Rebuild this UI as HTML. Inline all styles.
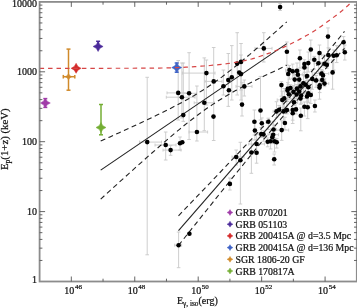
<!DOCTYPE html>
<html><head><meta charset="utf-8"><style>
html,body{margin:0;padding:0;background:#fff;}
svg{display:block;will-change:transform;}
</style></head><body>
<svg width="357" height="308" viewBox="0 0 357 308">
<rect width="357" height="308" fill="#fff"/>
<line x1="139.5" y1="142.1" x2="161.5" y2="142.1" stroke="#c8c8c8" stroke-width="0.9"/>
<line x1="139.5" y1="140.6" x2="139.5" y2="143.6" stroke="#c8c8c8" stroke-width="0.9"/>
<line x1="161.5" y1="140.6" x2="161.5" y2="143.6" stroke="#c8c8c8" stroke-width="0.9"/>
<line x1="147.2" y1="77.3" x2="147.2" y2="254.8" stroke="#c8c8c8" stroke-width="0.9"/>
<line x1="145.39999999999998" y1="77.3" x2="149.0" y2="77.3" stroke="#c8c8c8" stroke-width="0.9"/>
<line x1="145.39999999999998" y1="254.8" x2="149.0" y2="254.8" stroke="#c8c8c8" stroke-width="0.9"/>
<line x1="155" y1="145" x2="176" y2="145" stroke="#c8c8c8" stroke-width="0.9"/>
<line x1="155" y1="143.5" x2="155" y2="146.5" stroke="#c8c8c8" stroke-width="0.9"/>
<line x1="176" y1="143.5" x2="176" y2="146.5" stroke="#c8c8c8" stroke-width="0.9"/>
<line x1="165.7" y1="132" x2="165.7" y2="160" stroke="#c8c8c8" stroke-width="0.9"/>
<line x1="163.89999999999998" y1="132" x2="167.5" y2="132" stroke="#c8c8c8" stroke-width="0.9"/>
<line x1="163.89999999999998" y1="160" x2="167.5" y2="160" stroke="#c8c8c8" stroke-width="0.9"/>
<line x1="163" y1="150.1" x2="181" y2="150.1" stroke="#c8c8c8" stroke-width="0.9"/>
<line x1="163" y1="148.6" x2="163" y2="151.6" stroke="#c8c8c8" stroke-width="0.9"/>
<line x1="181" y1="148.6" x2="181" y2="151.6" stroke="#c8c8c8" stroke-width="0.9"/>
<line x1="170.6" y1="145.6" x2="170.6" y2="155.3" stroke="#c8c8c8" stroke-width="0.9"/>
<line x1="168.79999999999998" y1="145.6" x2="172.4" y2="145.6" stroke="#c8c8c8" stroke-width="0.9"/>
<line x1="168.79999999999998" y1="155.3" x2="172.4" y2="155.3" stroke="#c8c8c8" stroke-width="0.9"/>
<line x1="180" y1="137" x2="180" y2="150" stroke="#c8c8c8" stroke-width="0.9"/>
<line x1="178.2" y1="137" x2="181.8" y2="137" stroke="#c8c8c8" stroke-width="0.9"/>
<line x1="178.2" y1="150" x2="181.8" y2="150" stroke="#c8c8c8" stroke-width="0.9"/>
<line x1="189" y1="132" x2="207.6" y2="132" stroke="#c8c8c8" stroke-width="0.9"/>
<line x1="189" y1="130.5" x2="189" y2="133.5" stroke="#c8c8c8" stroke-width="0.9"/>
<line x1="207.6" y1="130.5" x2="207.6" y2="133.5" stroke="#c8c8c8" stroke-width="0.9"/>
<line x1="196.9" y1="86" x2="196.9" y2="141" stroke="#c8c8c8" stroke-width="0.9"/>
<line x1="195.1" y1="86" x2="198.70000000000002" y2="86" stroke="#c8c8c8" stroke-width="0.9"/>
<line x1="195.1" y1="141" x2="198.70000000000002" y2="141" stroke="#c8c8c8" stroke-width="0.9"/>
<line x1="183.3" y1="63" x2="183.3" y2="121.4" stroke="#c8c8c8" stroke-width="0.9"/>
<line x1="181.5" y1="63" x2="185.10000000000002" y2="63" stroke="#c8c8c8" stroke-width="0.9"/>
<line x1="181.5" y1="121.4" x2="185.10000000000002" y2="121.4" stroke="#c8c8c8" stroke-width="0.9"/>
<line x1="167" y1="92.9" x2="189" y2="92.9" stroke="#c8c8c8" stroke-width="0.9"/>
<line x1="167" y1="91.4" x2="167" y2="94.4" stroke="#c8c8c8" stroke-width="0.9"/>
<line x1="189" y1="91.4" x2="189" y2="94.4" stroke="#c8c8c8" stroke-width="0.9"/>
<line x1="178.2" y1="60.5" x2="178.2" y2="120" stroke="#c8c8c8" stroke-width="0.9"/>
<line x1="176.39999999999998" y1="60.5" x2="180.0" y2="60.5" stroke="#c8c8c8" stroke-width="0.9"/>
<line x1="176.39999999999998" y1="120" x2="180.0" y2="120" stroke="#c8c8c8" stroke-width="0.9"/>
<line x1="166.3" y1="97.2" x2="195" y2="97.2" stroke="#c8c8c8" stroke-width="0.9"/>
<line x1="166.3" y1="95.7" x2="166.3" y2="98.7" stroke="#c8c8c8" stroke-width="0.9"/>
<line x1="195" y1="95.7" x2="195" y2="98.7" stroke="#c8c8c8" stroke-width="0.9"/>
<line x1="181.9" y1="63" x2="181.9" y2="118" stroke="#c8c8c8" stroke-width="0.9"/>
<line x1="180.1" y1="63" x2="183.70000000000002" y2="63" stroke="#c8c8c8" stroke-width="0.9"/>
<line x1="180.1" y1="118" x2="183.70000000000002" y2="118" stroke="#c8c8c8" stroke-width="0.9"/>
<line x1="183" y1="93.3" x2="196.5" y2="93.3" stroke="#c8c8c8" stroke-width="0.9"/>
<line x1="183" y1="91.8" x2="183" y2="94.8" stroke="#c8c8c8" stroke-width="0.9"/>
<line x1="196.5" y1="91.8" x2="196.5" y2="94.8" stroke="#c8c8c8" stroke-width="0.9"/>
<line x1="189.1" y1="52.7" x2="189.1" y2="139.5" stroke="#c8c8c8" stroke-width="0.9"/>
<line x1="187.29999999999998" y1="52.7" x2="190.9" y2="52.7" stroke="#c8c8c8" stroke-width="0.9"/>
<line x1="187.29999999999998" y1="139.5" x2="190.9" y2="139.5" stroke="#c8c8c8" stroke-width="0.9"/>
<line x1="182.4" y1="73.1" x2="215" y2="73.1" stroke="#c8c8c8" stroke-width="0.9"/>
<line x1="182.4" y1="71.6" x2="182.4" y2="74.6" stroke="#c8c8c8" stroke-width="0.9"/>
<line x1="215" y1="71.6" x2="215" y2="74.6" stroke="#c8c8c8" stroke-width="0.9"/>
<line x1="206.4" y1="60" x2="206.4" y2="105" stroke="#c8c8c8" stroke-width="0.9"/>
<line x1="204.6" y1="60" x2="208.20000000000002" y2="60" stroke="#c8c8c8" stroke-width="0.9"/>
<line x1="204.6" y1="105" x2="208.20000000000002" y2="105" stroke="#c8c8c8" stroke-width="0.9"/>
<line x1="205" y1="81.4" x2="222" y2="81.4" stroke="#c8c8c8" stroke-width="0.9"/>
<line x1="205" y1="79.9" x2="205" y2="82.9" stroke="#c8c8c8" stroke-width="0.9"/>
<line x1="222" y1="79.9" x2="222" y2="82.9" stroke="#c8c8c8" stroke-width="0.9"/>
<line x1="213.7" y1="47.5" x2="213.7" y2="140.5" stroke="#c8c8c8" stroke-width="0.9"/>
<line x1="211.89999999999998" y1="47.5" x2="215.5" y2="47.5" stroke="#c8c8c8" stroke-width="0.9"/>
<line x1="211.89999999999998" y1="140.5" x2="215.5" y2="140.5" stroke="#c8c8c8" stroke-width="0.9"/>
<line x1="194.2" y1="102.8" x2="214" y2="102.8" stroke="#c8c8c8" stroke-width="0.9"/>
<line x1="194.2" y1="101.3" x2="194.2" y2="104.3" stroke="#c8c8c8" stroke-width="0.9"/>
<line x1="214" y1="101.3" x2="214" y2="104.3" stroke="#c8c8c8" stroke-width="0.9"/>
<line x1="204.3" y1="57.9" x2="204.3" y2="130.7" stroke="#c8c8c8" stroke-width="0.9"/>
<line x1="202.5" y1="57.9" x2="206.10000000000002" y2="57.9" stroke="#c8c8c8" stroke-width="0.9"/>
<line x1="202.5" y1="130.7" x2="206.10000000000002" y2="130.7" stroke="#c8c8c8" stroke-width="0.9"/>
<line x1="223.4" y1="70" x2="223.4" y2="95" stroke="#c8c8c8" stroke-width="0.9"/>
<line x1="221.6" y1="70" x2="225.20000000000002" y2="70" stroke="#c8c8c8" stroke-width="0.9"/>
<line x1="221.6" y1="95" x2="225.20000000000002" y2="95" stroke="#c8c8c8" stroke-width="0.9"/>
<line x1="228.3" y1="53.5" x2="228.3" y2="106.4" stroke="#c8c8c8" stroke-width="0.9"/>
<line x1="226.5" y1="53.5" x2="230.10000000000002" y2="53.5" stroke="#c8c8c8" stroke-width="0.9"/>
<line x1="226.5" y1="106.4" x2="230.10000000000002" y2="106.4" stroke="#c8c8c8" stroke-width="0.9"/>
<line x1="231.8" y1="45.6" x2="231.8" y2="100" stroke="#c8c8c8" stroke-width="0.9"/>
<line x1="230.0" y1="45.6" x2="233.60000000000002" y2="45.6" stroke="#c8c8c8" stroke-width="0.9"/>
<line x1="230.0" y1="100" x2="233.60000000000002" y2="100" stroke="#c8c8c8" stroke-width="0.9"/>
<line x1="237.2" y1="32.7" x2="237.2" y2="95" stroke="#c8c8c8" stroke-width="0.9"/>
<line x1="235.39999999999998" y1="32.7" x2="239.0" y2="32.7" stroke="#c8c8c8" stroke-width="0.9"/>
<line x1="235.39999999999998" y1="95" x2="239.0" y2="95" stroke="#c8c8c8" stroke-width="0.9"/>
<line x1="241" y1="43.5" x2="241" y2="90" stroke="#c8c8c8" stroke-width="0.9"/>
<line x1="239.2" y1="43.5" x2="242.8" y2="43.5" stroke="#c8c8c8" stroke-width="0.9"/>
<line x1="239.2" y1="90" x2="242.8" y2="90" stroke="#c8c8c8" stroke-width="0.9"/>
<line x1="241" y1="55" x2="241" y2="100" stroke="#c8c8c8" stroke-width="0.9"/>
<line x1="239.2" y1="55" x2="242.8" y2="55" stroke="#c8c8c8" stroke-width="0.9"/>
<line x1="239.2" y1="100" x2="242.8" y2="100" stroke="#c8c8c8" stroke-width="0.9"/>
<line x1="236" y1="86.4" x2="252" y2="86.4" stroke="#c8c8c8" stroke-width="0.9"/>
<line x1="236" y1="84.9" x2="236" y2="87.9" stroke="#c8c8c8" stroke-width="0.9"/>
<line x1="252" y1="84.9" x2="252" y2="87.9" stroke="#c8c8c8" stroke-width="0.9"/>
<line x1="244.3" y1="80" x2="244.3" y2="96" stroke="#c8c8c8" stroke-width="0.9"/>
<line x1="242.5" y1="80" x2="246.10000000000002" y2="80" stroke="#c8c8c8" stroke-width="0.9"/>
<line x1="242.5" y1="96" x2="246.10000000000002" y2="96" stroke="#c8c8c8" stroke-width="0.9"/>
<line x1="242" y1="82.3" x2="242" y2="116" stroke="#c8c8c8" stroke-width="0.9"/>
<line x1="240.2" y1="82.3" x2="243.8" y2="82.3" stroke="#c8c8c8" stroke-width="0.9"/>
<line x1="240.2" y1="116" x2="243.8" y2="116" stroke="#c8c8c8" stroke-width="0.9"/>
<line x1="255" y1="48.4" x2="272" y2="48.4" stroke="#c8c8c8" stroke-width="0.9"/>
<line x1="255" y1="46.9" x2="255" y2="49.9" stroke="#c8c8c8" stroke-width="0.9"/>
<line x1="272" y1="46.9" x2="272" y2="49.9" stroke="#c8c8c8" stroke-width="0.9"/>
<line x1="263.8" y1="32.7" x2="263.8" y2="62" stroke="#c8c8c8" stroke-width="0.9"/>
<line x1="262.0" y1="32.7" x2="265.6" y2="32.7" stroke="#c8c8c8" stroke-width="0.9"/>
<line x1="262.0" y1="62" x2="265.6" y2="62" stroke="#c8c8c8" stroke-width="0.9"/>
<line x1="280.1" y1="3.5" x2="280.1" y2="10.5" stroke="#c8c8c8" stroke-width="0.9"/>
<line x1="278.3" y1="3.5" x2="281.90000000000003" y2="3.5" stroke="#c8c8c8" stroke-width="0.9"/>
<line x1="278.3" y1="10.5" x2="281.90000000000003" y2="10.5" stroke="#c8c8c8" stroke-width="0.9"/>
<line x1="260.5" y1="76.4" x2="260.5" y2="120" stroke="#c8c8c8" stroke-width="0.9"/>
<line x1="258.7" y1="76.4" x2="262.3" y2="76.4" stroke="#c8c8c8" stroke-width="0.9"/>
<line x1="258.7" y1="120" x2="262.3" y2="120" stroke="#c8c8c8" stroke-width="0.9"/>
<line x1="174.7" y1="245.2" x2="181.6" y2="245.2" stroke="#c8c8c8" stroke-width="0.9"/>
<line x1="174.7" y1="243.7" x2="174.7" y2="246.7" stroke="#c8c8c8" stroke-width="0.9"/>
<line x1="181.6" y1="243.7" x2="181.6" y2="246.7" stroke="#c8c8c8" stroke-width="0.9"/>
<line x1="178.6" y1="232" x2="178.6" y2="267.7" stroke="#c8c8c8" stroke-width="0.9"/>
<line x1="176.79999999999998" y1="232" x2="180.4" y2="232" stroke="#c8c8c8" stroke-width="0.9"/>
<line x1="176.79999999999998" y1="267.7" x2="180.4" y2="267.7" stroke="#c8c8c8" stroke-width="0.9"/>
<line x1="229.9" y1="178" x2="229.9" y2="190" stroke="#c8c8c8" stroke-width="0.9"/>
<line x1="228.1" y1="178" x2="231.70000000000002" y2="178" stroke="#c8c8c8" stroke-width="0.9"/>
<line x1="228.1" y1="190" x2="231.70000000000002" y2="190" stroke="#c8c8c8" stroke-width="0.9"/>
<line x1="254.4" y1="110" x2="254.4" y2="135" stroke="#c8c8c8" stroke-width="0.9"/>
<line x1="252.6" y1="110" x2="256.2" y2="110" stroke="#c8c8c8" stroke-width="0.9"/>
<line x1="252.6" y1="135" x2="256.2" y2="135" stroke="#c8c8c8" stroke-width="0.9"/>
<line x1="261.8" y1="117.93317064616787" x2="261.8" y2="127.55764256532052" stroke="#c8c8c8" stroke-width="0.9"/>
<line x1="260.0" y1="117.93317064616787" x2="263.6" y2="117.93317064616787" stroke="#c8c8c8" stroke-width="0.9"/>
<line x1="260.0" y1="127.55764256532052" x2="263.6" y2="127.55764256532052" stroke="#c8c8c8" stroke-width="0.9"/>
<line x1="265.9520064513518" y1="121.7" x2="270.64799354864823" y2="121.7" stroke="#c8c8c8" stroke-width="0.9"/>
<line x1="265.9520064513518" y1="120.2" x2="265.9520064513518" y2="123.2" stroke="#c8c8c8" stroke-width="0.9"/>
<line x1="270.64799354864823" y1="120.2" x2="270.64799354864823" y2="123.2" stroke="#c8c8c8" stroke-width="0.9"/>
<line x1="268.3" y1="118.1929459933272" x2="268.3" y2="129.5229380387602" stroke="#c8c8c8" stroke-width="0.9"/>
<line x1="266.5" y1="118.1929459933272" x2="270.1" y2="118.1929459933272" stroke="#c8c8c8" stroke-width="0.9"/>
<line x1="266.5" y1="129.5229380387602" x2="270.1" y2="129.5229380387602" stroke="#c8c8c8" stroke-width="0.9"/>
<line x1="254.9" y1="122" x2="254.9" y2="140" stroke="#c8c8c8" stroke-width="0.9"/>
<line x1="253.1" y1="122" x2="256.7" y2="122" stroke="#c8c8c8" stroke-width="0.9"/>
<line x1="253.1" y1="140" x2="256.7" y2="140" stroke="#c8c8c8" stroke-width="0.9"/>
<line x1="258.7808674585523" y1="134" x2="263.6191325414477" y2="134" stroke="#c8c8c8" stroke-width="0.9"/>
<line x1="258.7808674585523" y1="132.5" x2="258.7808674585523" y2="135.5" stroke="#c8c8c8" stroke-width="0.9"/>
<line x1="263.6191325414477" y1="132.5" x2="263.6191325414477" y2="135.5" stroke="#c8c8c8" stroke-width="0.9"/>
<line x1="261.2" y1="127.44794986767405" x2="261.2" y2="137.33746092597787" stroke="#c8c8c8" stroke-width="0.9"/>
<line x1="259.4" y1="127.44794986767405" x2="263.0" y2="127.44794986767405" stroke="#c8c8c8" stroke-width="0.9"/>
<line x1="259.4" y1="137.33746092597787" x2="263.0" y2="137.33746092597787" stroke="#c8c8c8" stroke-width="0.9"/>
<line x1="263.5" y1="130.76500890659295" x2="263.5" y2="141.22067270228263" stroke="#c8c8c8" stroke-width="0.9"/>
<line x1="261.7" y1="130.76500890659295" x2="265.3" y2="130.76500890659295" stroke="#c8c8c8" stroke-width="0.9"/>
<line x1="261.7" y1="141.22067270228263" x2="265.3" y2="141.22067270228263" stroke="#c8c8c8" stroke-width="0.9"/>
<line x1="267.7" y1="137.9333862719525" x2="267.7" y2="146.80915068146314" stroke="#c8c8c8" stroke-width="0.9"/>
<line x1="265.9" y1="137.9333862719525" x2="269.5" y2="137.9333862719525" stroke="#c8c8c8" stroke-width="0.9"/>
<line x1="265.9" y1="146.80915068146314" x2="269.5" y2="146.80915068146314" stroke="#c8c8c8" stroke-width="0.9"/>
<line x1="248.7424693664425" y1="144" x2="264.45753063355755" y2="144" stroke="#c8c8c8" stroke-width="0.9"/>
<line x1="248.7424693664425" y1="142.5" x2="248.7424693664425" y2="145.5" stroke="#c8c8c8" stroke-width="0.9"/>
<line x1="264.45753063355755" y1="142.5" x2="264.45753063355755" y2="145.5" stroke="#c8c8c8" stroke-width="0.9"/>
<line x1="256.6" y1="134.36603740280097" x2="256.6" y2="152.1939265375575" stroke="#c8c8c8" stroke-width="0.9"/>
<line x1="254.8" y1="134.36603740280097" x2="258.40000000000003" y2="134.36603740280097" stroke="#c8c8c8" stroke-width="0.9"/>
<line x1="254.8" y1="152.1939265375575" x2="258.40000000000003" y2="152.1939265375575" stroke="#c8c8c8" stroke-width="0.9"/>
<line x1="251.4" y1="140" x2="251.4" y2="173.3" stroke="#c8c8c8" stroke-width="0.9"/>
<line x1="249.6" y1="140" x2="253.20000000000002" y2="140" stroke="#c8c8c8" stroke-width="0.9"/>
<line x1="249.6" y1="173.3" x2="253.20000000000002" y2="173.3" stroke="#c8c8c8" stroke-width="0.9"/>
<line x1="256.6" y1="140" x2="256.6" y2="163.2" stroke="#c8c8c8" stroke-width="0.9"/>
<line x1="254.8" y1="140" x2="258.40000000000003" y2="140" stroke="#c8c8c8" stroke-width="0.9"/>
<line x1="254.8" y1="163.2" x2="258.40000000000003" y2="163.2" stroke="#c8c8c8" stroke-width="0.9"/>
<line x1="232" y1="157" x2="244" y2="157" stroke="#c8c8c8" stroke-width="0.9"/>
<line x1="232" y1="155.5" x2="232" y2="158.5" stroke="#c8c8c8" stroke-width="0.9"/>
<line x1="244" y1="155.5" x2="244" y2="158.5" stroke="#c8c8c8" stroke-width="0.9"/>
<line x1="236.2" y1="150" x2="236.2" y2="165" stroke="#c8c8c8" stroke-width="0.9"/>
<line x1="234.39999999999998" y1="150" x2="238.0" y2="150" stroke="#c8c8c8" stroke-width="0.9"/>
<line x1="234.39999999999998" y1="165" x2="238.0" y2="165" stroke="#c8c8c8" stroke-width="0.9"/>
<line x1="240.4" y1="142.3" x2="240.4" y2="204" stroke="#c8c8c8" stroke-width="0.9"/>
<line x1="238.6" y1="142.3" x2="242.20000000000002" y2="142.3" stroke="#c8c8c8" stroke-width="0.9"/>
<line x1="238.6" y1="204" x2="242.20000000000002" y2="204" stroke="#c8c8c8" stroke-width="0.9"/>
<line x1="274.2" y1="154" x2="274.2" y2="165" stroke="#c8c8c8" stroke-width="0.9"/>
<line x1="272.4" y1="154" x2="276.0" y2="154" stroke="#c8c8c8" stroke-width="0.9"/>
<line x1="272.4" y1="165" x2="276.0" y2="165" stroke="#c8c8c8" stroke-width="0.9"/>
<line x1="271.63446949985536" y1="141.3" x2="277.36553050014464" y2="141.3" stroke="#c8c8c8" stroke-width="0.9"/>
<line x1="271.63446949985536" y1="139.8" x2="271.63446949985536" y2="142.8" stroke="#c8c8c8" stroke-width="0.9"/>
<line x1="277.36553050014464" y1="139.8" x2="277.36553050014464" y2="142.8" stroke="#c8c8c8" stroke-width="0.9"/>
<line x1="274.5" y1="137.9739212356757" x2="274.5" y2="152.02621613143813" stroke="#c8c8c8" stroke-width="0.9"/>
<line x1="272.7" y1="137.9739212356757" x2="276.3" y2="137.9739212356757" stroke="#c8c8c8" stroke-width="0.9"/>
<line x1="272.7" y1="152.02621613143813" x2="276.3" y2="152.02621613143813" stroke="#c8c8c8" stroke-width="0.9"/>
<line x1="276.7" y1="138.47545433345144" x2="276.7" y2="148.07633641691743" stroke="#c8c8c8" stroke-width="0.9"/>
<line x1="274.9" y1="138.47545433345144" x2="278.5" y2="138.47545433345144" stroke="#c8c8c8" stroke-width="0.9"/>
<line x1="274.9" y1="148.07633641691743" x2="278.5" y2="148.07633641691743" stroke="#c8c8c8" stroke-width="0.9"/>
<line x1="286.9" y1="42" x2="286.9" y2="65" stroke="#c8c8c8" stroke-width="0.9"/>
<line x1="285.09999999999997" y1="42" x2="288.7" y2="42" stroke="#c8c8c8" stroke-width="0.9"/>
<line x1="285.09999999999997" y1="65" x2="288.7" y2="65" stroke="#c8c8c8" stroke-width="0.9"/>
<line x1="299.9" y1="50" x2="299.9" y2="68" stroke="#c8c8c8" stroke-width="0.9"/>
<line x1="298.09999999999997" y1="50" x2="301.7" y2="50" stroke="#c8c8c8" stroke-width="0.9"/>
<line x1="298.09999999999997" y1="68" x2="301.7" y2="68" stroke="#c8c8c8" stroke-width="0.9"/>
<line x1="304.4" y1="59.73491534053244" x2="304.4" y2="72.23440147296219" stroke="#c8c8c8" stroke-width="0.9"/>
<line x1="302.59999999999997" y1="59.73491534053244" x2="306.2" y2="59.73491534053244" stroke="#c8c8c8" stroke-width="0.9"/>
<line x1="302.59999999999997" y1="72.23440147296219" x2="306.2" y2="72.23440147296219" stroke="#c8c8c8" stroke-width="0.9"/>
<line x1="308.3" y1="52" x2="308.3" y2="72" stroke="#c8c8c8" stroke-width="0.9"/>
<line x1="306.5" y1="52" x2="310.1" y2="52" stroke="#c8c8c8" stroke-width="0.9"/>
<line x1="306.5" y1="72" x2="310.1" y2="72" stroke="#c8c8c8" stroke-width="0.9"/>
<line x1="302.0423929802026" y1="67.5" x2="306.7576070197974" y2="67.5" stroke="#c8c8c8" stroke-width="0.9"/>
<line x1="302.0423929802026" y1="66.0" x2="302.0423929802026" y2="69.0" stroke="#c8c8c8" stroke-width="0.9"/>
<line x1="306.7576070197974" y1="66.0" x2="306.7576070197974" y2="69.0" stroke="#c8c8c8" stroke-width="0.9"/>
<line x1="304.4" y1="61.89321720091988" x2="304.4" y2="75.42970019138602" stroke="#c8c8c8" stroke-width="0.9"/>
<line x1="302.59999999999997" y1="61.89321720091988" x2="306.2" y2="61.89321720091988" stroke="#c8c8c8" stroke-width="0.9"/>
<line x1="302.59999999999997" y1="75.42970019138602" x2="306.2" y2="75.42970019138602" stroke="#c8c8c8" stroke-width="0.9"/>
<line x1="285.61511697773926" y1="70.1" x2="293.38488302226074" y2="70.1" stroke="#c8c8c8" stroke-width="0.9"/>
<line x1="285.61511697773926" y1="68.6" x2="285.61511697773926" y2="71.6" stroke="#c8c8c8" stroke-width="0.9"/>
<line x1="293.38488302226074" y1="68.6" x2="293.38488302226074" y2="71.6" stroke="#c8c8c8" stroke-width="0.9"/>
<line x1="289.5" y1="65.65828901026471" x2="289.5" y2="79.22359975863607" stroke="#c8c8c8" stroke-width="0.9"/>
<line x1="287.7" y1="65.65828901026471" x2="291.3" y2="65.65828901026471" stroke="#c8c8c8" stroke-width="0.9"/>
<line x1="287.7" y1="79.22359975863607" x2="291.3" y2="79.22359975863607" stroke="#c8c8c8" stroke-width="0.9"/>
<line x1="285.93372311086506" y1="71.2" x2="299.4662768891349" y2="71.2" stroke="#c8c8c8" stroke-width="0.9"/>
<line x1="285.93372311086506" y1="69.7" x2="285.93372311086506" y2="72.7" stroke="#c8c8c8" stroke-width="0.9"/>
<line x1="299.4662768891349" y1="69.7" x2="299.4662768891349" y2="72.7" stroke="#c8c8c8" stroke-width="0.9"/>
<line x1="292.7" y1="64.10106695544653" x2="292.7" y2="78.27865938733699" stroke="#c8c8c8" stroke-width="0.9"/>
<line x1="290.9" y1="64.10106695544653" x2="294.5" y2="64.10106695544653" stroke="#c8c8c8" stroke-width="0.9"/>
<line x1="290.9" y1="78.27865938733699" x2="294.5" y2="78.27865938733699" stroke="#c8c8c8" stroke-width="0.9"/>
<line x1="297" y1="63.00703896389301" x2="297" y2="76.09686859649938" stroke="#c8c8c8" stroke-width="0.9"/>
<line x1="295.2" y1="63.00703896389301" x2="298.8" y2="63.00703896389301" stroke="#c8c8c8" stroke-width="0.9"/>
<line x1="295.2" y1="76.09686859649938" x2="298.8" y2="76.09686859649938" stroke="#c8c8c8" stroke-width="0.9"/>
<line x1="288.2" y1="67.32362447331984" x2="288.2" y2="84.87623746016087" stroke="#c8c8c8" stroke-width="0.9"/>
<line x1="286.4" y1="67.32362447331984" x2="290.0" y2="67.32362447331984" stroke="#c8c8c8" stroke-width="0.9"/>
<line x1="286.4" y1="84.87623746016087" x2="290.0" y2="84.87623746016087" stroke="#c8c8c8" stroke-width="0.9"/>
<line x1="293.39126306928864" y1="74.8" x2="302.4087369307113" y2="74.8" stroke="#c8c8c8" stroke-width="0.9"/>
<line x1="293.39126306928864" y1="73.3" x2="293.39126306928864" y2="76.3" stroke="#c8c8c8" stroke-width="0.9"/>
<line x1="302.4087369307113" y1="73.3" x2="302.4087369307113" y2="76.3" stroke="#c8c8c8" stroke-width="0.9"/>
<line x1="297.9" y1="69.7844356457687" x2="297.9" y2="86.62157362743324" stroke="#c8c8c8" stroke-width="0.9"/>
<line x1="296.09999999999997" y1="69.7844356457687" x2="299.7" y2="69.7844356457687" stroke="#c8c8c8" stroke-width="0.9"/>
<line x1="296.09999999999997" y1="86.62157362743324" x2="299.7" y2="86.62157362743324" stroke="#c8c8c8" stroke-width="0.9"/>
<line x1="304.76475645771535" y1="76.1" x2="309.23524354228465" y2="76.1" stroke="#c8c8c8" stroke-width="0.9"/>
<line x1="304.76475645771535" y1="74.6" x2="304.76475645771535" y2="77.6" stroke="#c8c8c8" stroke-width="0.9"/>
<line x1="309.23524354228465" y1="74.6" x2="309.23524354228465" y2="77.6" stroke="#c8c8c8" stroke-width="0.9"/>
<line x1="307" y1="67.80001349304325" x2="307" y2="80.46786081194453" stroke="#c8c8c8" stroke-width="0.9"/>
<line x1="305.2" y1="67.80001349304325" x2="308.8" y2="67.80001349304325" stroke="#c8c8c8" stroke-width="0.9"/>
<line x1="305.2" y1="80.46786081194453" x2="308.8" y2="80.46786081194453" stroke="#c8c8c8" stroke-width="0.9"/>
<line x1="294.7" y1="71.92248900425923" x2="294.7" y2="89.48113779591532" stroke="#c8c8c8" stroke-width="0.9"/>
<line x1="292.9" y1="71.92248900425923" x2="296.5" y2="71.92248900425923" stroke="#c8c8c8" stroke-width="0.9"/>
<line x1="292.9" y1="89.48113779591532" x2="296.5" y2="89.48113779591532" stroke="#c8c8c8" stroke-width="0.9"/>
<line x1="299.2" y1="70.47165531718377" x2="299.2" y2="85.42372761563287" stroke="#c8c8c8" stroke-width="0.9"/>
<line x1="297.4" y1="70.47165531718377" x2="301.0" y2="70.47165531718377" stroke="#c8c8c8" stroke-width="0.9"/>
<line x1="297.4" y1="85.42372761563287" x2="301.0" y2="85.42372761563287" stroke="#c8c8c8" stroke-width="0.9"/>
<line x1="310.8" y1="40" x2="310.8" y2="60" stroke="#c8c8c8" stroke-width="0.9"/>
<line x1="309.0" y1="40" x2="312.6" y2="40" stroke="#c8c8c8" stroke-width="0.9"/>
<line x1="309.0" y1="60" x2="312.6" y2="60" stroke="#c8c8c8" stroke-width="0.9"/>
<line x1="328" y1="27.9" x2="328" y2="60" stroke="#c8c8c8" stroke-width="0.9"/>
<line x1="326.2" y1="27.9" x2="329.8" y2="27.9" stroke="#c8c8c8" stroke-width="0.9"/>
<line x1="326.2" y1="60" x2="329.8" y2="60" stroke="#c8c8c8" stroke-width="0.9"/>
<line x1="343.6" y1="36.6" x2="343.6" y2="50" stroke="#c8c8c8" stroke-width="0.9"/>
<line x1="341.8" y1="36.6" x2="345.40000000000003" y2="36.6" stroke="#c8c8c8" stroke-width="0.9"/>
<line x1="341.8" y1="50" x2="345.40000000000003" y2="50" stroke="#c8c8c8" stroke-width="0.9"/>
<line x1="344.8" y1="45" x2="344.8" y2="60" stroke="#c8c8c8" stroke-width="0.9"/>
<line x1="343.0" y1="45" x2="346.6" y2="45" stroke="#c8c8c8" stroke-width="0.9"/>
<line x1="343.0" y1="60" x2="346.6" y2="60" stroke="#c8c8c8" stroke-width="0.9"/>
<line x1="319.5" y1="45" x2="319.5" y2="62" stroke="#c8c8c8" stroke-width="0.9"/>
<line x1="317.7" y1="45" x2="321.3" y2="45" stroke="#c8c8c8" stroke-width="0.9"/>
<line x1="317.7" y1="62" x2="321.3" y2="62" stroke="#c8c8c8" stroke-width="0.9"/>
<line x1="321.26019331692476" y1="55" x2="335.33980668307527" y2="55" stroke="#c8c8c8" stroke-width="0.9"/>
<line x1="321.26019331692476" y1="53.5" x2="321.26019331692476" y2="56.5" stroke="#c8c8c8" stroke-width="0.9"/>
<line x1="335.33980668307527" y1="53.5" x2="335.33980668307527" y2="56.5" stroke="#c8c8c8" stroke-width="0.9"/>
<line x1="328.3" y1="47.83941086026487" x2="328.3" y2="63.21905683854243" stroke="#c8c8c8" stroke-width="0.9"/>
<line x1="326.5" y1="47.83941086026487" x2="330.1" y2="47.83941086026487" stroke="#c8c8c8" stroke-width="0.9"/>
<line x1="326.5" y1="63.21905683854243" x2="330.1" y2="63.21905683854243" stroke="#c8c8c8" stroke-width="0.9"/>
<line x1="333.7" y1="50" x2="333.7" y2="70" stroke="#c8c8c8" stroke-width="0.9"/>
<line x1="331.9" y1="50" x2="335.5" y2="50" stroke="#c8c8c8" stroke-width="0.9"/>
<line x1="331.9" y1="70" x2="335.5" y2="70" stroke="#c8c8c8" stroke-width="0.9"/>
<line x1="336.7" y1="45.687232334244435" x2="336.7" y2="62.566885036776796" stroke="#c8c8c8" stroke-width="0.9"/>
<line x1="334.9" y1="45.687232334244435" x2="338.5" y2="45.687232334244435" stroke="#c8c8c8" stroke-width="0.9"/>
<line x1="334.9" y1="62.566885036776796" x2="338.5" y2="62.566885036776796" stroke="#c8c8c8" stroke-width="0.9"/>
<line x1="314.3" y1="56.37531400681946" x2="314.3" y2="69.11342819173981" stroke="#c8c8c8" stroke-width="0.9"/>
<line x1="312.5" y1="56.37531400681946" x2="316.1" y2="56.37531400681946" stroke="#c8c8c8" stroke-width="0.9"/>
<line x1="312.5" y1="69.11342819173981" x2="316.1" y2="69.11342819173981" stroke="#c8c8c8" stroke-width="0.9"/>
<line x1="314.0852513453197" y1="63.2" x2="322.71474865468025" y2="63.2" stroke="#c8c8c8" stroke-width="0.9"/>
<line x1="314.0852513453197" y1="61.7" x2="314.0852513453197" y2="64.7" stroke="#c8c8c8" stroke-width="0.9"/>
<line x1="322.71474865468025" y1="61.7" x2="322.71474865468025" y2="64.7" stroke="#c8c8c8" stroke-width="0.9"/>
<line x1="318.4" y1="53.24832842373357" x2="318.4" y2="73.59732307948744" stroke="#c8c8c8" stroke-width="0.9"/>
<line x1="316.59999999999997" y1="53.24832842373357" x2="320.2" y2="53.24832842373357" stroke="#c8c8c8" stroke-width="0.9"/>
<line x1="316.59999999999997" y1="73.59732307948744" x2="320.2" y2="73.59732307948744" stroke="#c8c8c8" stroke-width="0.9"/>
<line x1="321.4917097265607" y1="63.7" x2="327.5082902734393" y2="63.7" stroke="#c8c8c8" stroke-width="0.9"/>
<line x1="321.4917097265607" y1="62.2" x2="321.4917097265607" y2="65.2" stroke="#c8c8c8" stroke-width="0.9"/>
<line x1="327.5082902734393" y1="62.2" x2="327.5082902734393" y2="65.2" stroke="#c8c8c8" stroke-width="0.9"/>
<line x1="324.5" y1="56.01943098881068" x2="324.5" y2="66.9030663525003" stroke="#c8c8c8" stroke-width="0.9"/>
<line x1="322.7" y1="56.01943098881068" x2="326.3" y2="56.01943098881068" stroke="#c8c8c8" stroke-width="0.9"/>
<line x1="322.7" y1="66.9030663525003" x2="326.3" y2="66.9030663525003" stroke="#c8c8c8" stroke-width="0.9"/>
<line x1="326.8" y1="60.88032943862788" x2="326.8" y2="68.23058977398179" stroke="#c8c8c8" stroke-width="0.9"/>
<line x1="325.0" y1="60.88032943862788" x2="328.6" y2="60.88032943862788" stroke="#c8c8c8" stroke-width="0.9"/>
<line x1="325.0" y1="68.23058977398179" x2="328.6" y2="68.23058977398179" stroke="#c8c8c8" stroke-width="0.9"/>
<line x1="332.6" y1="60" x2="332.6" y2="89.2" stroke="#c8c8c8" stroke-width="0.9"/>
<line x1="330.8" y1="60" x2="334.40000000000003" y2="60" stroke="#c8c8c8" stroke-width="0.9"/>
<line x1="330.8" y1="89.2" x2="334.40000000000003" y2="89.2" stroke="#c8c8c8" stroke-width="0.9"/>
<line x1="314.2714681552422" y1="73.6" x2="328.7285318447578" y2="73.6" stroke="#c8c8c8" stroke-width="0.9"/>
<line x1="314.2714681552422" y1="72.1" x2="314.2714681552422" y2="75.1" stroke="#c8c8c8" stroke-width="0.9"/>
<line x1="328.7285318447578" y1="72.1" x2="328.7285318447578" y2="75.1" stroke="#c8c8c8" stroke-width="0.9"/>
<line x1="321.5" y1="69.69461844586921" x2="321.5" y2="78.82853350327223" stroke="#c8c8c8" stroke-width="0.9"/>
<line x1="319.7" y1="69.69461844586921" x2="323.3" y2="69.69461844586921" stroke="#c8c8c8" stroke-width="0.9"/>
<line x1="319.7" y1="78.82853350327223" x2="323.3" y2="78.82853350327223" stroke="#c8c8c8" stroke-width="0.9"/>
<line x1="323" y1="71.83593089159903" x2="323" y2="82.44268660854398" stroke="#c8c8c8" stroke-width="0.9"/>
<line x1="321.2" y1="71.83593089159903" x2="324.8" y2="71.83593089159903" stroke="#c8c8c8" stroke-width="0.9"/>
<line x1="321.2" y1="82.44268660854398" x2="324.8" y2="82.44268660854398" stroke="#c8c8c8" stroke-width="0.9"/>
<line x1="312.3" y1="69.71631321490942" x2="312.3" y2="89.27351854052168" stroke="#c8c8c8" stroke-width="0.9"/>
<line x1="310.5" y1="69.71631321490942" x2="314.1" y2="69.71631321490942" stroke="#c8c8c8" stroke-width="0.9"/>
<line x1="310.5" y1="89.27351854052168" x2="314.1" y2="89.27351854052168" stroke="#c8c8c8" stroke-width="0.9"/>
<line x1="308.79484303681073" y1="80.5" x2="323.4051569631893" y2="80.5" stroke="#c8c8c8" stroke-width="0.9"/>
<line x1="308.79484303681073" y1="79.0" x2="308.79484303681073" y2="82.0" stroke="#c8c8c8" stroke-width="0.9"/>
<line x1="323.4051569631893" y1="79.0" x2="323.4051569631893" y2="82.0" stroke="#c8c8c8" stroke-width="0.9"/>
<line x1="316.1" y1="75.55105254840272" x2="316.1" y2="87.23766865490529" stroke="#c8c8c8" stroke-width="0.9"/>
<line x1="314.3" y1="75.55105254840272" x2="317.90000000000003" y2="75.55105254840272" stroke="#c8c8c8" stroke-width="0.9"/>
<line x1="314.3" y1="87.23766865490529" x2="317.90000000000003" y2="87.23766865490529" stroke="#c8c8c8" stroke-width="0.9"/>
<line x1="318.80825879908275" y1="80" x2="325.5917412009172" y2="80" stroke="#c8c8c8" stroke-width="0.9"/>
<line x1="318.80825879908275" y1="78.5" x2="318.80825879908275" y2="81.5" stroke="#c8c8c8" stroke-width="0.9"/>
<line x1="325.5917412009172" y1="78.5" x2="325.5917412009172" y2="81.5" stroke="#c8c8c8" stroke-width="0.9"/>
<line x1="322.2" y1="70.29588157225206" x2="322.2" y2="84.35828815211998" stroke="#c8c8c8" stroke-width="0.9"/>
<line x1="320.4" y1="70.29588157225206" x2="324.0" y2="70.29588157225206" stroke="#c8c8c8" stroke-width="0.9"/>
<line x1="320.4" y1="84.35828815211998" x2="324.0" y2="84.35828815211998" stroke="#c8c8c8" stroke-width="0.9"/>
<line x1="319.7" y1="80.56664741423397" x2="319.7" y2="92.5646645730722" stroke="#c8c8c8" stroke-width="0.9"/>
<line x1="317.9" y1="80.56664741423397" x2="321.5" y2="80.56664741423397" stroke="#c8c8c8" stroke-width="0.9"/>
<line x1="317.9" y1="92.5646645730722" x2="321.5" y2="92.5646645730722" stroke="#c8c8c8" stroke-width="0.9"/>
<line x1="320.28447856263165" y1="83.6" x2="328.71552143736835" y2="83.6" stroke="#c8c8c8" stroke-width="0.9"/>
<line x1="320.28447856263165" y1="82.1" x2="320.28447856263165" y2="85.1" stroke="#c8c8c8" stroke-width="0.9"/>
<line x1="328.71552143736835" y1="82.1" x2="328.71552143736835" y2="85.1" stroke="#c8c8c8" stroke-width="0.9"/>
<line x1="324.5" y1="78.76077366491023" x2="324.5" y2="86.63684243046556" stroke="#c8c8c8" stroke-width="0.9"/>
<line x1="322.7" y1="78.76077366491023" x2="326.3" y2="78.76077366491023" stroke="#c8c8c8" stroke-width="0.9"/>
<line x1="322.7" y1="86.63684243046556" x2="326.3" y2="86.63684243046556" stroke="#c8c8c8" stroke-width="0.9"/>
<line x1="319.5" y1="80.63561143405525" x2="319.5" y2="99.17788132972585" stroke="#c8c8c8" stroke-width="0.9"/>
<line x1="317.7" y1="80.63561143405525" x2="321.3" y2="80.63561143405525" stroke="#c8c8c8" stroke-width="0.9"/>
<line x1="317.7" y1="99.17788132972585" x2="321.3" y2="99.17788132972585" stroke="#c8c8c8" stroke-width="0.9"/>
<line x1="310.8" y1="88.39155996850455" x2="310.8" y2="103.55833474468216" stroke="#c8c8c8" stroke-width="0.9"/>
<line x1="309.0" y1="88.39155996850455" x2="312.6" y2="88.39155996850455" stroke="#c8c8c8" stroke-width="0.9"/>
<line x1="309.0" y1="103.55833474468216" x2="312.6" y2="103.55833474468216" stroke="#c8c8c8" stroke-width="0.9"/>
<line x1="314.9" y1="100" x2="314.9" y2="112" stroke="#c8c8c8" stroke-width="0.9"/>
<line x1="313.09999999999997" y1="100" x2="316.7" y2="100" stroke="#c8c8c8" stroke-width="0.9"/>
<line x1="313.09999999999997" y1="112" x2="316.7" y2="112" stroke="#c8c8c8" stroke-width="0.9"/>
<line x1="281.4" y1="81.72204974743346" x2="281.4" y2="96.19579709052157" stroke="#c8c8c8" stroke-width="0.9"/>
<line x1="279.59999999999997" y1="81.72204974743346" x2="283.2" y2="81.72204974743346" stroke="#c8c8c8" stroke-width="0.9"/>
<line x1="279.59999999999997" y1="96.19579709052157" x2="283.2" y2="96.19579709052157" stroke="#c8c8c8" stroke-width="0.9"/>
<line x1="299.10612700607834" y1="83.4" x2="307.89387299392166" y2="83.4" stroke="#c8c8c8" stroke-width="0.9"/>
<line x1="299.10612700607834" y1="81.9" x2="299.10612700607834" y2="84.9" stroke="#c8c8c8" stroke-width="0.9"/>
<line x1="307.89387299392166" y1="81.9" x2="307.89387299392166" y2="84.9" stroke="#c8c8c8" stroke-width="0.9"/>
<line x1="303.5" y1="74.27840771105866" x2="303.5" y2="93.5808580907691" stroke="#c8c8c8" stroke-width="0.9"/>
<line x1="301.7" y1="74.27840771105866" x2="305.3" y2="74.27840771105866" stroke="#c8c8c8" stroke-width="0.9"/>
<line x1="301.7" y1="93.5808580907691" x2="305.3" y2="93.5808580907691" stroke="#c8c8c8" stroke-width="0.9"/>
<line x1="303.29591430494185" y1="84.7" x2="308.10408569505813" y2="84.7" stroke="#c8c8c8" stroke-width="0.9"/>
<line x1="303.29591430494185" y1="83.2" x2="303.29591430494185" y2="86.2" stroke="#c8c8c8" stroke-width="0.9"/>
<line x1="308.10408569505813" y1="83.2" x2="308.10408569505813" y2="86.2" stroke="#c8c8c8" stroke-width="0.9"/>
<line x1="305.7" y1="80.97524034402774" x2="305.7" y2="93.40860609117138" stroke="#c8c8c8" stroke-width="0.9"/>
<line x1="303.9" y1="80.97524034402774" x2="307.5" y2="80.97524034402774" stroke="#c8c8c8" stroke-width="0.9"/>
<line x1="303.9" y1="93.40860609117138" x2="307.5" y2="93.40860609117138" stroke="#c8c8c8" stroke-width="0.9"/>
<line x1="298.1845463766584" y1="86.4" x2="302.8154536233416" y2="86.4" stroke="#c8c8c8" stroke-width="0.9"/>
<line x1="298.1845463766584" y1="84.9" x2="298.1845463766584" y2="87.9" stroke="#c8c8c8" stroke-width="0.9"/>
<line x1="302.8154536233416" y1="84.9" x2="302.8154536233416" y2="87.9" stroke="#c8c8c8" stroke-width="0.9"/>
<line x1="300.5" y1="81.93865770187685" x2="300.5" y2="90.86072868994889" stroke="#c8c8c8" stroke-width="0.9"/>
<line x1="298.7" y1="81.93865770187685" x2="302.3" y2="81.93865770187685" stroke="#c8c8c8" stroke-width="0.9"/>
<line x1="298.7" y1="90.86072868994889" x2="302.3" y2="90.86072868994889" stroke="#c8c8c8" stroke-width="0.9"/>
<line x1="304.11834046779256" y1="87.3" x2="312.48165953220746" y2="87.3" stroke="#c8c8c8" stroke-width="0.9"/>
<line x1="304.11834046779256" y1="85.8" x2="304.11834046779256" y2="88.8" stroke="#c8c8c8" stroke-width="0.9"/>
<line x1="312.48165953220746" y1="85.8" x2="312.48165953220746" y2="88.8" stroke="#c8c8c8" stroke-width="0.9"/>
<line x1="308.3" y1="84.2983670266905" x2="308.3" y2="91.66138439051485" stroke="#c8c8c8" stroke-width="0.9"/>
<line x1="306.5" y1="84.2983670266905" x2="310.1" y2="84.2983670266905" stroke="#c8c8c8" stroke-width="0.9"/>
<line x1="306.5" y1="91.66138439051485" x2="310.1" y2="91.66138439051485" stroke="#c8c8c8" stroke-width="0.9"/>
<line x1="290.5" y1="84.82149379333698" x2="290.5" y2="98.86899139636438" stroke="#c8c8c8" stroke-width="0.9"/>
<line x1="288.7" y1="84.82149379333698" x2="292.3" y2="84.82149379333698" stroke="#c8c8c8" stroke-width="0.9"/>
<line x1="288.7" y1="98.86899139636438" x2="292.3" y2="98.86899139636438" stroke="#c8c8c8" stroke-width="0.9"/>
<line x1="292.8150193628303" y1="88.6" x2="301.1849806371697" y2="88.6" stroke="#c8c8c8" stroke-width="0.9"/>
<line x1="292.8150193628303" y1="87.1" x2="292.8150193628303" y2="90.1" stroke="#c8c8c8" stroke-width="0.9"/>
<line x1="301.1849806371697" y1="87.1" x2="301.1849806371697" y2="90.1" stroke="#c8c8c8" stroke-width="0.9"/>
<line x1="297" y1="84.56014660268376" x2="297" y2="93.8703198090137" stroke="#c8c8c8" stroke-width="0.9"/>
<line x1="295.2" y1="84.56014660268376" x2="298.8" y2="84.56014660268376" stroke="#c8c8c8" stroke-width="0.9"/>
<line x1="295.2" y1="93.8703198090137" x2="298.8" y2="93.8703198090137" stroke="#c8c8c8" stroke-width="0.9"/>
<line x1="287.5" y1="86.74010438466463" x2="287.5" y2="101.24043233836153" stroke="#c8c8c8" stroke-width="0.9"/>
<line x1="285.7" y1="86.74010438466463" x2="289.3" y2="86.74010438466463" stroke="#c8c8c8" stroke-width="0.9"/>
<line x1="285.7" y1="101.24043233836153" x2="289.3" y2="101.24043233836153" stroke="#c8c8c8" stroke-width="0.9"/>
<line x1="290.78687429951094" y1="91.9" x2="296.013125700489" y2="91.9" stroke="#c8c8c8" stroke-width="0.9"/>
<line x1="290.78687429951094" y1="90.4" x2="290.78687429951094" y2="93.4" stroke="#c8c8c8" stroke-width="0.9"/>
<line x1="296.013125700489" y1="90.4" x2="296.013125700489" y2="93.4" stroke="#c8c8c8" stroke-width="0.9"/>
<line x1="293.4" y1="85.63807378588047" x2="293.4" y2="99.25451190774643" stroke="#c8c8c8" stroke-width="0.9"/>
<line x1="291.59999999999997" y1="85.63807378588047" x2="295.2" y2="85.63807378588047" stroke="#c8c8c8" stroke-width="0.9"/>
<line x1="291.59999999999997" y1="99.25451190774643" x2="295.2" y2="99.25451190774643" stroke="#c8c8c8" stroke-width="0.9"/>
<line x1="299.2" y1="86.20154913229898" x2="299.2" y2="96.98281202545462" stroke="#c8c8c8" stroke-width="0.9"/>
<line x1="297.4" y1="86.20154913229898" x2="301.0" y2="86.20154913229898" stroke="#c8c8c8" stroke-width="0.9"/>
<line x1="297.4" y1="96.98281202545462" x2="301.0" y2="96.98281202545462" stroke="#c8c8c8" stroke-width="0.9"/>
<line x1="288.8" y1="90.06992972631498" x2="288.8" y2="97.40786148940724" stroke="#c8c8c8" stroke-width="0.9"/>
<line x1="287.0" y1="90.06992972631498" x2="290.6" y2="90.06992972631498" stroke="#c8c8c8" stroke-width="0.9"/>
<line x1="287.0" y1="97.40786148940724" x2="290.6" y2="97.40786148940724" stroke="#c8c8c8" stroke-width="0.9"/>
<line x1="296.6" y1="87.80219823470513" x2="296.6" y2="98.81942285009181" stroke="#c8c8c8" stroke-width="0.9"/>
<line x1="294.8" y1="87.80219823470513" x2="298.40000000000003" y2="87.80219823470513" stroke="#c8c8c8" stroke-width="0.9"/>
<line x1="294.8" y1="98.81942285009181" x2="298.40000000000003" y2="98.81942285009181" stroke="#c8c8c8" stroke-width="0.9"/>
<line x1="301.2" y1="92.31070256004482" x2="301.2" y2="103.25298496844476" stroke="#c8c8c8" stroke-width="0.9"/>
<line x1="299.4" y1="92.31070256004482" x2="303.0" y2="92.31070256004482" stroke="#c8c8c8" stroke-width="0.9"/>
<line x1="299.4" y1="103.25298496844476" x2="303.0" y2="103.25298496844476" stroke="#c8c8c8" stroke-width="0.9"/>
<line x1="304.0998012494329" y1="93.2" x2="312.5001987505671" y2="93.2" stroke="#c8c8c8" stroke-width="0.9"/>
<line x1="304.0998012494329" y1="91.7" x2="304.0998012494329" y2="94.7" stroke="#c8c8c8" stroke-width="0.9"/>
<line x1="312.5001987505671" y1="91.7" x2="312.5001987505671" y2="94.7" stroke="#c8c8c8" stroke-width="0.9"/>
<line x1="308.3" y1="84.15672478797232" x2="308.3" y2="102.46577107317022" stroke="#c8c8c8" stroke-width="0.9"/>
<line x1="306.5" y1="84.15672478797232" x2="310.1" y2="84.15672478797232" stroke="#c8c8c8" stroke-width="0.9"/>
<line x1="306.5" y1="102.46577107317022" x2="310.1" y2="102.46577107317022" stroke="#c8c8c8" stroke-width="0.9"/>
<line x1="307" y1="92.23070575825965" x2="307" y2="106.34744117561829" stroke="#c8c8c8" stroke-width="0.9"/>
<line x1="305.2" y1="92.23070575825965" x2="308.8" y2="92.23070575825965" stroke="#c8c8c8" stroke-width="0.9"/>
<line x1="305.2" y1="106.34744117561829" x2="308.8" y2="106.34744117561829" stroke="#c8c8c8" stroke-width="0.9"/>
<line x1="293.63093251935845" y1="98.4" x2="307.36906748064155" y2="98.4" stroke="#c8c8c8" stroke-width="0.9"/>
<line x1="293.63093251935845" y1="96.9" x2="293.63093251935845" y2="99.9" stroke="#c8c8c8" stroke-width="0.9"/>
<line x1="307.36906748064155" y1="96.9" x2="307.36906748064155" y2="99.9" stroke="#c8c8c8" stroke-width="0.9"/>
<line x1="300.5" y1="89.94661576063277" x2="300.5" y2="104.36698495542987" stroke="#c8c8c8" stroke-width="0.9"/>
<line x1="298.7" y1="89.94661576063277" x2="302.3" y2="89.94661576063277" stroke="#c8c8c8" stroke-width="0.9"/>
<line x1="298.7" y1="104.36698495542987" x2="302.3" y2="104.36698495542987" stroke="#c8c8c8" stroke-width="0.9"/>
<line x1="284.3" y1="88.50551764586378" x2="284.3" y2="109.07365918871994" stroke="#c8c8c8" stroke-width="0.9"/>
<line x1="282.5" y1="88.50551764586378" x2="286.1" y2="88.50551764586378" stroke="#c8c8c8" stroke-width="0.9"/>
<line x1="282.5" y1="109.07365918871994" x2="286.1" y2="109.07365918871994" stroke="#c8c8c8" stroke-width="0.9"/>
<line x1="277.194167654539" y1="99.9" x2="287.405832345461" y2="99.9" stroke="#c8c8c8" stroke-width="0.9"/>
<line x1="277.194167654539" y1="98.4" x2="277.194167654539" y2="101.4" stroke="#c8c8c8" stroke-width="0.9"/>
<line x1="287.405832345461" y1="98.4" x2="287.405832345461" y2="101.4" stroke="#c8c8c8" stroke-width="0.9"/>
<line x1="282.3" y1="91.1716693967224" x2="282.3" y2="109.55885718338143" stroke="#c8c8c8" stroke-width="0.9"/>
<line x1="280.5" y1="91.1716693967224" x2="284.1" y2="91.1716693967224" stroke="#c8c8c8" stroke-width="0.9"/>
<line x1="280.5" y1="109.55885718338143" x2="284.1" y2="109.55885718338143" stroke="#c8c8c8" stroke-width="0.9"/>
<line x1="290.3234887657058" y1="102.3" x2="297.6765112342942" y2="102.3" stroke="#c8c8c8" stroke-width="0.9"/>
<line x1="290.3234887657058" y1="100.8" x2="290.3234887657058" y2="103.8" stroke="#c8c8c8" stroke-width="0.9"/>
<line x1="297.6765112342942" y1="100.8" x2="297.6765112342942" y2="103.8" stroke="#c8c8c8" stroke-width="0.9"/>
<line x1="294" y1="96.8110621965153" x2="294" y2="105.56082135667229" stroke="#c8c8c8" stroke-width="0.9"/>
<line x1="292.2" y1="96.8110621965153" x2="295.8" y2="96.8110621965153" stroke="#c8c8c8" stroke-width="0.9"/>
<line x1="292.2" y1="105.56082135667229" x2="295.8" y2="105.56082135667229" stroke="#c8c8c8" stroke-width="0.9"/>
<line x1="304.4" y1="101.9857794571257" x2="304.4" y2="116.0326974753011" stroke="#c8c8c8" stroke-width="0.9"/>
<line x1="302.59999999999997" y1="101.9857794571257" x2="306.2" y2="101.9857794571257" stroke="#c8c8c8" stroke-width="0.9"/>
<line x1="302.59999999999997" y1="116.0326974753011" x2="306.2" y2="116.0326974753011" stroke="#c8c8c8" stroke-width="0.9"/>
<line x1="307.7" y1="101.06940625563294" x2="307.7" y2="118.63319081148619" stroke="#c8c8c8" stroke-width="0.9"/>
<line x1="305.9" y1="101.06940625563294" x2="309.5" y2="101.06940625563294" stroke="#c8c8c8" stroke-width="0.9"/>
<line x1="305.9" y1="118.63319081148619" x2="309.5" y2="118.63319081148619" stroke="#c8c8c8" stroke-width="0.9"/>
<line x1="273.13892503961563" y1="111.4" x2="279.86107496038437" y2="111.4" stroke="#c8c8c8" stroke-width="0.9"/>
<line x1="273.13892503961563" y1="109.9" x2="273.13892503961563" y2="112.9" stroke="#c8c8c8" stroke-width="0.9"/>
<line x1="279.86107496038437" y1="109.9" x2="279.86107496038437" y2="112.9" stroke="#c8c8c8" stroke-width="0.9"/>
<line x1="276.5" y1="101.71499558075067" x2="276.5" y2="117.6817229682568" stroke="#c8c8c8" stroke-width="0.9"/>
<line x1="274.7" y1="101.71499558075067" x2="278.3" y2="101.71499558075067" stroke="#c8c8c8" stroke-width="0.9"/>
<line x1="274.7" y1="117.6817229682568" x2="278.3" y2="117.6817229682568" stroke="#c8c8c8" stroke-width="0.9"/>
<line x1="279.1" y1="105.42305685606478" x2="279.1" y2="114.639360269486" stroke="#c8c8c8" stroke-width="0.9"/>
<line x1="277.3" y1="105.42305685606478" x2="280.90000000000003" y2="105.42305685606478" stroke="#c8c8c8" stroke-width="0.9"/>
<line x1="277.3" y1="114.639360269486" x2="280.90000000000003" y2="114.639360269486" stroke="#c8c8c8" stroke-width="0.9"/>
<line x1="277.68213174295397" y1="111.4" x2="289.5178682570461" y2="111.4" stroke="#c8c8c8" stroke-width="0.9"/>
<line x1="277.68213174295397" y1="109.9" x2="277.68213174295397" y2="112.9" stroke="#c8c8c8" stroke-width="0.9"/>
<line x1="289.5178682570461" y1="109.9" x2="289.5178682570461" y2="112.9" stroke="#c8c8c8" stroke-width="0.9"/>
<line x1="283.6" y1="102.0978416348112" x2="283.6" y2="121.9639197455136" stroke="#c8c8c8" stroke-width="0.9"/>
<line x1="281.8" y1="102.0978416348112" x2="285.40000000000003" y2="102.0978416348112" stroke="#c8c8c8" stroke-width="0.9"/>
<line x1="281.8" y1="121.9639197455136" x2="285.40000000000003" y2="121.9639197455136" stroke="#c8c8c8" stroke-width="0.9"/>
<line x1="286.9" y1="101.50249378605237" x2="286.9" y2="113.86300637805341" stroke="#c8c8c8" stroke-width="0.9"/>
<line x1="285.09999999999997" y1="101.50249378605237" x2="288.7" y2="101.50249378605237" stroke="#c8c8c8" stroke-width="0.9"/>
<line x1="285.09999999999997" y1="113.86300637805341" x2="288.7" y2="113.86300637805341" stroke="#c8c8c8" stroke-width="0.9"/>
<line x1="292.7" y1="100.73156003713794" x2="292.7" y2="120.1407259568828" stroke="#c8c8c8" stroke-width="0.9"/>
<line x1="290.9" y1="100.73156003713794" x2="294.5" y2="100.73156003713794" stroke="#c8c8c8" stroke-width="0.9"/>
<line x1="290.9" y1="120.1407259568828" x2="294.5" y2="120.1407259568828" stroke="#c8c8c8" stroke-width="0.9"/>
<line x1="296" y1="103.053770787842" x2="296" y2="114.00669546503816" stroke="#c8c8c8" stroke-width="0.9"/>
<line x1="294.2" y1="103.053770787842" x2="297.8" y2="103.053770787842" stroke="#c8c8c8" stroke-width="0.9"/>
<line x1="294.2" y1="114.00669546503816" x2="297.8" y2="114.00669546503816" stroke="#c8c8c8" stroke-width="0.9"/>
<line x1="292.7" y1="107.97237960094773" x2="292.7" y2="123.50741212007021" stroke="#c8c8c8" stroke-width="0.9"/>
<line x1="290.9" y1="107.97237960094773" x2="294.5" y2="107.97237960094773" stroke="#c8c8c8" stroke-width="0.9"/>
<line x1="290.9" y1="123.50741212007021" x2="294.5" y2="123.50741212007021" stroke="#c8c8c8" stroke-width="0.9"/>
<line x1="300.8" y1="108" x2="300.8" y2="130.8" stroke="#c8c8c8" stroke-width="0.9"/>
<line x1="299.0" y1="108" x2="302.6" y2="108" stroke="#c8c8c8" stroke-width="0.9"/>
<line x1="299.0" y1="130.8" x2="302.6" y2="130.8" stroke="#c8c8c8" stroke-width="0.9"/>
<line x1="284.9" y1="117.22913053451386" x2="284.9" y2="129.6124813608093" stroke="#c8c8c8" stroke-width="0.9"/>
<line x1="283.09999999999997" y1="117.22913053451386" x2="286.7" y2="117.22913053451386" stroke="#c8c8c8" stroke-width="0.9"/>
<line x1="283.09999999999997" y1="129.6124813608093" x2="286.7" y2="129.6124813608093" stroke="#c8c8c8" stroke-width="0.9"/>
<line x1="270.69309579771107" y1="129.5" x2="276.506904202289" y2="129.5" stroke="#c8c8c8" stroke-width="0.9"/>
<line x1="270.69309579771107" y1="128.0" x2="270.69309579771107" y2="131.0" stroke="#c8c8c8" stroke-width="0.9"/>
<line x1="276.506904202289" y1="128.0" x2="276.506904202289" y2="131.0" stroke="#c8c8c8" stroke-width="0.9"/>
<line x1="273.6" y1="121.4264093405605" x2="273.6" y2="134.03003293974706" stroke="#c8c8c8" stroke-width="0.9"/>
<line x1="271.8" y1="121.4264093405605" x2="275.40000000000003" y2="121.4264093405605" stroke="#c8c8c8" stroke-width="0.9"/>
<line x1="271.8" y1="134.03003293974706" x2="275.40000000000003" y2="134.03003293974706" stroke="#c8c8c8" stroke-width="0.9"/>
<line x1="274.7409371288477" y1="130.1" x2="288.6590628711523" y2="130.1" stroke="#c8c8c8" stroke-width="0.9"/>
<line x1="274.7409371288477" y1="128.6" x2="274.7409371288477" y2="131.6" stroke="#c8c8c8" stroke-width="0.9"/>
<line x1="288.6590628711523" y1="128.6" x2="288.6590628711523" y2="131.6" stroke="#c8c8c8" stroke-width="0.9"/>
<line x1="281.7" y1="120.76603532986732" x2="281.7" y2="140.35851783828977" stroke="#c8c8c8" stroke-width="0.9"/>
<line x1="279.9" y1="120.76603532986732" x2="283.5" y2="120.76603532986732" stroke="#c8c8c8" stroke-width="0.9"/>
<line x1="279.9" y1="140.35851783828977" x2="283.5" y2="140.35851783828977" stroke="#c8c8c8" stroke-width="0.9"/>
<line x1="267.90803973607933" y1="134.7" x2="278.49196026392065" y2="134.7" stroke="#c8c8c8" stroke-width="0.9"/>
<line x1="267.90803973607933" y1="133.2" x2="267.90803973607933" y2="136.2" stroke="#c8c8c8" stroke-width="0.9"/>
<line x1="278.49196026392065" y1="133.2" x2="278.49196026392065" y2="136.2" stroke="#c8c8c8" stroke-width="0.9"/>
<line x1="273.2" y1="124.83785839587077" x2="273.2" y2="143.61541463462416" stroke="#c8c8c8" stroke-width="0.9"/>
<line x1="271.4" y1="124.83785839587077" x2="275.0" y2="124.83785839587077" stroke="#c8c8c8" stroke-width="0.9"/>
<line x1="271.4" y1="143.61541463462416" x2="275.0" y2="143.61541463462416" stroke="#c8c8c8" stroke-width="0.9"/>
<line x1="272.3" y1="133.38311303593386" x2="272.3" y2="140.42818644340497" stroke="#c8c8c8" stroke-width="0.9"/>
<line x1="270.5" y1="133.38311303593386" x2="274.1" y2="133.38311303593386" stroke="#c8c8c8" stroke-width="0.9"/>
<line x1="270.5" y1="140.42818644340497" x2="274.1" y2="140.42818644340497" stroke="#c8c8c8" stroke-width="0.9"/>
<line x1="270.6" y1="133.65227731228316" x2="270.6" y2="148.93922942389148" stroke="#c8c8c8" stroke-width="0.9"/>
<line x1="268.8" y1="133.65227731228316" x2="272.40000000000003" y2="133.65227731228316" stroke="#c8c8c8" stroke-width="0.9"/>
<line x1="268.8" y1="148.93922942389148" x2="272.40000000000003" y2="148.93922942389148" stroke="#c8c8c8" stroke-width="0.9"/>
<line x1="287.8" y1="82.6633339426976" x2="287.8" y2="99.54568635190464" stroke="#c8c8c8" stroke-width="0.9"/>
<line x1="286.0" y1="82.6633339426976" x2="289.6" y2="82.6633339426976" stroke="#c8c8c8" stroke-width="0.9"/>
<line x1="286.0" y1="99.54568635190464" x2="289.6" y2="99.54568635190464" stroke="#c8c8c8" stroke-width="0.9"/>
<line x1="100.7" y1="170.1" x2="286.8" y2="43.6" stroke="#222" stroke-width="1.1"/>
<polyline points="100.7,141.1 105.4,139.0 110.0,136.9 114.7,134.8 119.3,132.7 124.0,130.6 128.6,128.5 133.3,126.3 137.9,124.2 142.6,122.0 147.2,119.8 151.9,117.6 156.5,115.3 161.2,113.1 165.8,110.8 170.5,108.4 175.1,106.0 179.8,103.6 184.4,101.0 189.1,98.4 193.8,95.7 198.4,92.9 203.1,90.0 207.7,87.0 212.4,83.8 217.0,80.5 221.7,77.1 226.3,73.5 231.0,69.9 235.6,66.2 240.3,62.4 244.9,58.5 249.6,54.6 254.2,50.6 258.9,46.6 263.5,42.5 268.2,38.4 272.8,34.3 277.5,30.2 282.1,26.0 286.8,21.9" fill="none" stroke="#222" stroke-width="1.1" stroke-dasharray="5,3.5"/>
<polyline points="100.7,199.1 105.4,194.8 110.0,190.6 114.7,186.4 119.3,182.2 124.0,178.0 128.6,173.8 133.3,169.6 137.9,165.4 142.6,161.3 147.2,157.2 151.9,153.0 156.5,149.0 161.2,144.9 165.8,140.9 170.5,136.9 175.1,133.0 179.8,129.1 184.4,125.3 189.1,121.6 193.8,118.0 198.4,114.5 203.1,111.1 207.7,107.8 212.4,104.6 217.0,101.6 221.7,98.7 226.3,95.9 231.0,93.2 235.6,90.6 240.3,88.1 244.9,85.6 249.6,83.2 254.2,80.9 258.9,78.6 263.5,76.3 268.2,74.1 272.8,71.9 277.5,69.7 282.1,67.5 286.8,65.3" fill="none" stroke="#222" stroke-width="1.1" stroke-dasharray="5,3.5"/>
<line x1="178.5" y1="230.6" x2="344.5" y2="39.9" stroke="#222" stroke-width="1.1"/>
<polyline points="178.5,215.8 182.7,211.4 186.8,207.1 190.9,202.8 195.1,198.5 199.2,194.2 203.4,189.8 207.6,185.5 211.7,181.2 215.8,176.8 220.0,172.5 224.2,168.1 228.3,163.7 232.4,159.4 236.6,155.0 240.8,150.6 244.9,146.2 249.1,141.7 253.2,137.3 257.4,132.8 261.5,128.4 265.6,123.8 269.8,119.3 273.9,114.7 278.1,110.1 282.2,105.5 286.4,100.8 290.6,96.1 294.7,91.3 298.9,86.5 303.0,81.6 307.1,76.7 311.3,71.8 315.4,66.9 319.6,61.9 323.8,56.8 327.9,51.8 332.1,46.7 336.2,41.6 340.4,36.5 344.5,31.4" fill="none" stroke="#222" stroke-width="1.1" stroke-dasharray="5,3.5"/>
<polyline points="178.5,245.4 182.7,240.2 186.8,235.0 190.9,229.8 195.1,224.6 199.2,219.4 203.4,214.2 207.6,209.0 211.7,203.8 215.8,198.6 220.0,193.4 224.2,188.2 228.3,183.0 232.4,177.9 236.6,172.7 240.8,167.6 244.9,162.5 249.1,157.4 253.2,152.3 257.4,147.2 261.5,142.1 265.6,137.1 269.8,132.1 273.9,127.2 278.1,122.2 282.2,117.3 286.4,112.5 290.6,107.7 294.7,102.9 298.9,98.2 303.0,93.5 307.1,88.9 311.3,84.3 315.4,79.7 319.6,75.1 323.8,70.6 327.9,66.2 332.1,61.7 336.2,57.2 340.4,52.8 344.5,48.4" fill="none" stroke="#222" stroke-width="1.1" stroke-dasharray="5,3.5"/>
<circle cx="147.2" cy="142.1" r="2.3" fill="#000"/>
<circle cx="165.7" cy="145" r="2.3" fill="#000"/>
<circle cx="170.6" cy="150.1" r="2.3" fill="#000"/>
<circle cx="180" cy="143.3" r="2.3" fill="#000"/>
<circle cx="182.3" cy="142.3" r="2.3" fill="#000"/>
<circle cx="196.9" cy="132" r="2.3" fill="#000"/>
<circle cx="183.3" cy="115.1" r="2.3" fill="#000"/>
<circle cx="178.2" cy="92.9" r="2.3" fill="#000"/>
<circle cx="181.9" cy="97.2" r="2.3" fill="#000"/>
<circle cx="189.1" cy="93.3" r="2.3" fill="#000"/>
<circle cx="206.4" cy="73.1" r="2.3" fill="#000"/>
<circle cx="213.7" cy="81.4" r="2.3" fill="#000"/>
<circle cx="204.3" cy="102.8" r="2.3" fill="#000"/>
<circle cx="213.5" cy="116.6" r="2.3" fill="#000"/>
<circle cx="223.4" cy="86.3" r="2.3" fill="#000"/>
<circle cx="228.3" cy="80.1" r="2.3" fill="#000"/>
<circle cx="231.8" cy="77.2" r="2.3" fill="#000"/>
<circle cx="228.9" cy="90.2" r="2.3" fill="#000"/>
<circle cx="237.2" cy="63.6" r="2.3" fill="#000"/>
<circle cx="241" cy="61.9" r="2.3" fill="#000"/>
<circle cx="241" cy="74.1" r="2.3" fill="#000"/>
<circle cx="239.2" cy="72.6" r="2.3" fill="#000"/>
<circle cx="244.3" cy="86.4" r="2.3" fill="#000"/>
<circle cx="242" cy="104.6" r="2.3" fill="#000"/>
<circle cx="263.8" cy="48.4" r="2.3" fill="#000"/>
<circle cx="280.1" cy="7.1" r="2.3" fill="#000"/>
<circle cx="260.5" cy="110.5" r="2.3" fill="#000"/>
<circle cx="178.6" cy="245.2" r="2.3" fill="#000"/>
<circle cx="189.4" cy="233.7" r="2.3" fill="#000"/>
<circle cx="229.9" cy="183.9" r="2.3" fill="#000"/>
<circle cx="254.4" cy="121.7" r="2.3" fill="#000"/>
<circle cx="261.8" cy="123.2" r="2.3" fill="#000"/>
<circle cx="268.3" cy="121.7" r="2.3" fill="#000"/>
<circle cx="254.9" cy="130.5" r="2.3" fill="#000"/>
<circle cx="261.2" cy="134" r="2.3" fill="#000"/>
<circle cx="263.5" cy="134.4" r="2.3" fill="#000"/>
<circle cx="267.7" cy="141.8" r="2.3" fill="#000"/>
<circle cx="256.6" cy="144" r="2.3" fill="#000"/>
<circle cx="251.4" cy="152.5" r="2.3" fill="#000"/>
<circle cx="256.6" cy="152.8" r="2.3" fill="#000"/>
<circle cx="236.2" cy="157" r="2.3" fill="#000"/>
<circle cx="240.4" cy="160.2" r="2.3" fill="#000"/>
<circle cx="274.2" cy="159.2" r="2.3" fill="#000"/>
<circle cx="274.5" cy="141.3" r="2.3" fill="#000"/>
<circle cx="276.7" cy="142.3" r="2.3" fill="#000"/>
<circle cx="286.9" cy="51.7" r="2.3" fill="#000"/>
<circle cx="299.9" cy="58.2" r="2.3" fill="#000"/>
<circle cx="304.4" cy="64" r="2.3" fill="#000"/>
<circle cx="308.3" cy="63.1" r="2.3" fill="#000"/>
<circle cx="304.4" cy="67.5" r="2.3" fill="#000"/>
<circle cx="289.5" cy="70.1" r="2.3" fill="#000"/>
<circle cx="292.7" cy="71.2" r="2.3" fill="#000"/>
<circle cx="297" cy="70.9" r="2.3" fill="#000"/>
<circle cx="288.2" cy="74" r="2.3" fill="#000"/>
<circle cx="297.9" cy="74.8" r="2.3" fill="#000"/>
<circle cx="307" cy="76.1" r="2.3" fill="#000"/>
<circle cx="294.7" cy="79.6" r="2.3" fill="#000"/>
<circle cx="299.2" cy="79.6" r="2.3" fill="#000"/>
<circle cx="310.8" cy="49.5" r="2.3" fill="#000"/>
<circle cx="328" cy="36.6" r="2.3" fill="#000"/>
<circle cx="343.6" cy="42.2" r="2.3" fill="#000"/>
<circle cx="344.8" cy="52.2" r="2.3" fill="#000"/>
<circle cx="319.5" cy="53" r="2.3" fill="#000"/>
<circle cx="328.3" cy="55" r="2.3" fill="#000"/>
<circle cx="333.7" cy="55.7" r="2.3" fill="#000"/>
<circle cx="336.7" cy="55.3" r="2.3" fill="#000"/>
<circle cx="314.3" cy="59.8" r="2.3" fill="#000"/>
<circle cx="318.4" cy="63.2" r="2.3" fill="#000"/>
<circle cx="324.5" cy="63.7" r="2.3" fill="#000"/>
<circle cx="326.8" cy="64.7" r="2.3" fill="#000"/>
<circle cx="332.6" cy="72.4" r="2.3" fill="#000"/>
<circle cx="321.5" cy="73.6" r="2.3" fill="#000"/>
<circle cx="323" cy="75.4" r="2.3" fill="#000"/>
<circle cx="312.3" cy="78.9" r="2.3" fill="#000"/>
<circle cx="316.1" cy="80.5" r="2.3" fill="#000"/>
<circle cx="322.2" cy="80" r="2.3" fill="#000"/>
<circle cx="319.7" cy="85.2" r="2.3" fill="#000"/>
<circle cx="324.5" cy="83.6" r="2.3" fill="#000"/>
<circle cx="319.5" cy="87.6" r="2.3" fill="#000"/>
<circle cx="310.8" cy="95" r="2.3" fill="#000"/>
<circle cx="314.9" cy="106" r="2.3" fill="#000"/>
<circle cx="281.4" cy="85.1" r="2.3" fill="#000"/>
<circle cx="303.5" cy="83.4" r="2.3" fill="#000"/>
<circle cx="305.7" cy="84.7" r="2.3" fill="#000"/>
<circle cx="300.5" cy="86.4" r="2.3" fill="#000"/>
<circle cx="308.3" cy="87.3" r="2.3" fill="#000"/>
<circle cx="290.5" cy="88" r="2.3" fill="#000"/>
<circle cx="297" cy="88.6" r="2.3" fill="#000"/>
<circle cx="287.5" cy="90.6" r="2.3" fill="#000"/>
<circle cx="293.4" cy="91.9" r="2.3" fill="#000"/>
<circle cx="299.2" cy="91.6" r="2.3" fill="#000"/>
<circle cx="288.8" cy="94.2" r="2.3" fill="#000"/>
<circle cx="296.6" cy="94.5" r="2.3" fill="#000"/>
<circle cx="301.2" cy="95.5" r="2.3" fill="#000"/>
<circle cx="308.3" cy="93.2" r="2.3" fill="#000"/>
<circle cx="307" cy="96.4" r="2.3" fill="#000"/>
<circle cx="300.5" cy="98.4" r="2.3" fill="#000"/>
<circle cx="284.3" cy="98.4" r="2.3" fill="#000"/>
<circle cx="282.3" cy="99.9" r="2.3" fill="#000"/>
<circle cx="294" cy="102.3" r="2.3" fill="#000"/>
<circle cx="304.4" cy="106.8" r="2.3" fill="#000"/>
<circle cx="307.7" cy="107.2" r="2.3" fill="#000"/>
<circle cx="276.5" cy="111.4" r="2.3" fill="#000"/>
<circle cx="279.1" cy="109.8" r="2.3" fill="#000"/>
<circle cx="283.6" cy="111.4" r="2.3" fill="#000"/>
<circle cx="286.9" cy="110.1" r="2.3" fill="#000"/>
<circle cx="292.7" cy="110.1" r="2.3" fill="#000"/>
<circle cx="296" cy="109.4" r="2.3" fill="#000"/>
<circle cx="292.7" cy="113.3" r="2.3" fill="#000"/>
<circle cx="300.8" cy="115.8" r="2.3" fill="#000"/>
<circle cx="284.9" cy="123" r="2.3" fill="#000"/>
<circle cx="273.6" cy="129.5" r="2.3" fill="#000"/>
<circle cx="281.7" cy="130.1" r="2.3" fill="#000"/>
<circle cx="273.2" cy="134.7" r="2.3" fill="#000"/>
<circle cx="272.3" cy="137.3" r="2.3" fill="#000"/>
<circle cx="270.6" cy="141.2" r="2.3" fill="#000"/>
<circle cx="287.8" cy="88.7" r="2.3" fill="#000"/>
<line x1="45.3" y1="98.6" x2="45.3" y2="107.4" stroke="#a03ca8" stroke-width="1.5"/><line x1="43.3" y1="98.6" x2="47.3" y2="98.6" stroke="#a03ca8" stroke-width="1.5"/><line x1="43.3" y1="107.4" x2="47.3" y2="107.4" stroke="#a03ca8" stroke-width="1.5"/>
<polygon points="45.30,98.00 47.14,101.16 50.30,103.00 47.14,104.84 45.30,108.00 43.46,104.84 40.30,103.00 43.46,101.16" fill="#a03ca8" stroke="#a03ca8" stroke-width="0.5" stroke-linejoin="round"/>
<line x1="98.1" y1="41.3" x2="98.1" y2="46.5" stroke="#4b2a9a" stroke-width="1.5"/><line x1="96.1" y1="41.3" x2="100.1" y2="41.3" stroke="#4b2a9a" stroke-width="1.5"/><line x1="96.1" y1="46.5" x2="100.1" y2="46.5" stroke="#4b2a9a" stroke-width="1.5"/>
<polygon points="98.10,41.50 99.94,44.66 103.10,46.50 99.94,48.34 98.10,51.50 96.26,48.34 93.10,46.50 96.26,44.66" fill="#4b2a9a" stroke="#4b2a9a" stroke-width="0.5" stroke-linejoin="round"/>
<polygon points="76.10,63.30 77.94,66.46 81.10,68.30 77.94,70.14 76.10,73.30 74.26,70.14 71.10,68.30 74.26,66.46" fill="#d42a2a" stroke="#d42a2a" stroke-width="0.5" stroke-linejoin="round"/>
<line x1="176.7" y1="63.0" x2="176.7" y2="72.2" stroke="#3f63c6" stroke-width="1.5"/><line x1="174.7" y1="63.0" x2="178.7" y2="63.0" stroke="#3f63c6" stroke-width="1.5"/><line x1="174.7" y1="72.2" x2="178.7" y2="72.2" stroke="#3f63c6" stroke-width="1.5"/>
<polygon points="176.70,62.60 178.54,65.76 181.70,67.60 178.54,69.44 176.70,72.60 174.86,69.44 171.70,67.60 174.86,65.76" fill="#3f63c6" stroke="#3f63c6" stroke-width="0.5" stroke-linejoin="round"/>
<line x1="68.5" y1="49.1" x2="68.5" y2="90.2" stroke="#d08a2a" stroke-width="1.5"/><line x1="66.5" y1="49.1" x2="70.5" y2="49.1" stroke="#d08a2a" stroke-width="1.5"/><line x1="66.5" y1="90.2" x2="70.5" y2="90.2" stroke="#d08a2a" stroke-width="1.5"/>
<line x1="63.3" y1="76.7" x2="74.8" y2="76.7" stroke="#d08a2a" stroke-width="1.5"/><line x1="63.3" y1="74.9" x2="63.3" y2="78.5" stroke="#d08a2a" stroke-width="1.5"/><line x1="74.8" y1="74.9" x2="74.8" y2="78.5" stroke="#d08a2a" stroke-width="1.5"/>
<polygon points="68.50,73.50 69.68,75.52 71.70,76.70 69.68,77.88 68.50,79.90 67.32,77.88 65.30,76.70 67.32,75.52" fill="#d08a2a" stroke="#d08a2a" stroke-width="0.5" stroke-linejoin="round"/>
<line x1="101" y1="104.5" x2="101" y2="134.8" stroke="#74ae34" stroke-width="1.5"/><line x1="99.0" y1="104.5" x2="103.0" y2="104.5" stroke="#74ae34" stroke-width="1.5"/><line x1="99.0" y1="134.8" x2="103.0" y2="134.8" stroke="#74ae34" stroke-width="1.5"/>
<polygon points="101.00,122.50 102.84,125.66 106.00,127.50 102.84,129.34 101.00,132.50 99.16,129.34 96.00,127.50 99.16,125.66" fill="#74ae34" stroke="#74ae34" stroke-width="0.5" stroke-linejoin="round"/>
<polyline points="39.6,68.4 150.0,68.2 153.0,68.2 156.0,68.1 159.0,68.1 162.0,68.0 165.0,68.0 168.0,67.9 171.0,67.8 174.0,67.7 177.0,67.6 180.0,67.5 183.0,67.4 186.0,67.2 189.0,67.1 192.0,66.9 195.0,66.7 198.0,66.5 201.0,66.2 204.0,66.0 207.0,65.7 210.0,65.5 213.0,65.2 216.0,64.9 219.0,64.6 222.0,64.3 225.0,63.9 228.0,63.5 231.0,63.1 234.0,62.6 237.0,62.1 240.0,61.6 243.0,61.0 246.0,60.3 249.0,59.6 252.0,58.9 255.0,58.0 258.0,57.0 261.0,56.0 264.0,55.0 267.0,53.9 270.0,52.9 273.0,51.7 276.0,50.5 279.0,49.3 282.0,48.0 285.0,46.6 288.0,45.2 291.0,43.7 294.0,42.2 297.0,40.7 300.0,39.1 303.0,37.5 306.0,35.8 309.0,34.1 312.0,32.3 315.0,30.4 318.0,28.5 321.0,26.4 324.0,24.2 327.0,22.1 330.0,19.9 333.0,17.7 336.0,15.5 339.0,13.2 342.0,10.8 345.0,8.2 348.0,5.5 351.0,2.5 351.3,2.2" fill="none" stroke="#d64545" stroke-width="1.2" stroke-dasharray="4.5,3.96"/>
<rect x="39.6" y="1.8999999999999773" width="317.2" height="279.6" fill="none" stroke="#8c8c8c" stroke-width="1.8"/>
<line x1="71.32" y1="281.5" x2="71.32" y2="276.5" stroke="#555" stroke-width="0.9"/>
<line x1="71.32" y1="1.8999999999999773" x2="71.32" y2="6.899999999999977" stroke="#555" stroke-width="0.9"/>
<line x1="103.03999999999999" y1="281.5" x2="103.03999999999999" y2="278.7" stroke="#555" stroke-width="0.9"/>
<line x1="103.03999999999999" y1="1.8999999999999773" x2="103.03999999999999" y2="4.699999999999977" stroke="#555" stroke-width="0.9"/>
<line x1="134.76" y1="281.5" x2="134.76" y2="276.5" stroke="#555" stroke-width="0.9"/>
<line x1="134.76" y1="1.8999999999999773" x2="134.76" y2="6.899999999999977" stroke="#555" stroke-width="0.9"/>
<line x1="166.48" y1="281.5" x2="166.48" y2="278.7" stroke="#555" stroke-width="0.9"/>
<line x1="166.48" y1="1.8999999999999773" x2="166.48" y2="4.699999999999977" stroke="#555" stroke-width="0.9"/>
<line x1="198.2" y1="281.5" x2="198.2" y2="276.5" stroke="#555" stroke-width="0.9"/>
<line x1="198.2" y1="1.8999999999999773" x2="198.2" y2="6.899999999999977" stroke="#555" stroke-width="0.9"/>
<line x1="229.92" y1="281.5" x2="229.92" y2="278.7" stroke="#555" stroke-width="0.9"/>
<line x1="229.92" y1="1.8999999999999773" x2="229.92" y2="4.699999999999977" stroke="#555" stroke-width="0.9"/>
<line x1="261.64" y1="281.5" x2="261.64" y2="276.5" stroke="#555" stroke-width="0.9"/>
<line x1="261.64" y1="1.8999999999999773" x2="261.64" y2="6.899999999999977" stroke="#555" stroke-width="0.9"/>
<line x1="293.36" y1="281.5" x2="293.36" y2="278.7" stroke="#555" stroke-width="0.9"/>
<line x1="293.36" y1="1.8999999999999773" x2="293.36" y2="4.699999999999977" stroke="#555" stroke-width="0.9"/>
<line x1="325.08000000000004" y1="281.5" x2="325.08000000000004" y2="276.5" stroke="#555" stroke-width="0.9"/>
<line x1="325.08000000000004" y1="1.8999999999999773" x2="325.08000000000004" y2="6.899999999999977" stroke="#555" stroke-width="0.9"/>
<line x1="39.6" y1="260.4580033030877" x2="42.4" y2="260.4580033030877" stroke="#555" stroke-width="0.9"/>
<line x1="356.8" y1="260.4580033030877" x2="354.0" y2="260.4580033030877" stroke="#555" stroke-width="0.9"/>
<line x1="39.6" y1="248.1492242950956" x2="42.4" y2="248.1492242950956" stroke="#555" stroke-width="0.9"/>
<line x1="356.8" y1="248.1492242950956" x2="354.0" y2="248.1492242950956" stroke="#555" stroke-width="0.9"/>
<line x1="39.6" y1="239.41600660617542" x2="42.4" y2="239.41600660617542" stroke="#555" stroke-width="0.9"/>
<line x1="356.8" y1="239.41600660617542" x2="354.0" y2="239.41600660617542" stroke="#555" stroke-width="0.9"/>
<line x1="39.6" y1="232.6419966969123" x2="42.4" y2="232.6419966969123" stroke="#555" stroke-width="0.9"/>
<line x1="356.8" y1="232.6419966969123" x2="354.0" y2="232.6419966969123" stroke="#555" stroke-width="0.9"/>
<line x1="39.6" y1="227.1072275981833" x2="42.4" y2="227.1072275981833" stroke="#555" stroke-width="0.9"/>
<line x1="356.8" y1="227.1072275981833" x2="354.0" y2="227.1072275981833" stroke="#555" stroke-width="0.9"/>
<line x1="39.6" y1="222.42764700300344" x2="42.4" y2="222.42764700300344" stroke="#555" stroke-width="0.9"/>
<line x1="356.8" y1="222.42764700300344" x2="354.0" y2="222.42764700300344" stroke="#555" stroke-width="0.9"/>
<line x1="39.6" y1="218.37400990926315" x2="42.4" y2="218.37400990926315" stroke="#555" stroke-width="0.9"/>
<line x1="356.8" y1="218.37400990926315" x2="354.0" y2="218.37400990926315" stroke="#555" stroke-width="0.9"/>
<line x1="39.6" y1="214.79844859019119" x2="42.4" y2="214.79844859019119" stroke="#555" stroke-width="0.9"/>
<line x1="356.8" y1="214.79844859019119" x2="354.0" y2="214.79844859019119" stroke="#555" stroke-width="0.9"/>
<line x1="39.6" y1="211.6" x2="45.1" y2="211.6" stroke="#555" stroke-width="0.9"/>
<line x1="356.8" y1="211.6" x2="351.3" y2="211.6" stroke="#555" stroke-width="0.9"/>
<line x1="39.6" y1="190.5580033030877" x2="42.4" y2="190.5580033030877" stroke="#555" stroke-width="0.9"/>
<line x1="356.8" y1="190.5580033030877" x2="354.0" y2="190.5580033030877" stroke="#555" stroke-width="0.9"/>
<line x1="39.6" y1="178.2492242950956" x2="42.4" y2="178.2492242950956" stroke="#555" stroke-width="0.9"/>
<line x1="356.8" y1="178.2492242950956" x2="354.0" y2="178.2492242950956" stroke="#555" stroke-width="0.9"/>
<line x1="39.6" y1="169.5160066061754" x2="42.4" y2="169.5160066061754" stroke="#555" stroke-width="0.9"/>
<line x1="356.8" y1="169.5160066061754" x2="354.0" y2="169.5160066061754" stroke="#555" stroke-width="0.9"/>
<line x1="39.6" y1="162.74199669691228" x2="42.4" y2="162.74199669691228" stroke="#555" stroke-width="0.9"/>
<line x1="356.8" y1="162.74199669691228" x2="354.0" y2="162.74199669691228" stroke="#555" stroke-width="0.9"/>
<line x1="39.6" y1="157.2072275981833" x2="42.4" y2="157.2072275981833" stroke="#555" stroke-width="0.9"/>
<line x1="356.8" y1="157.2072275981833" x2="354.0" y2="157.2072275981833" stroke="#555" stroke-width="0.9"/>
<line x1="39.6" y1="152.52764700300344" x2="42.4" y2="152.52764700300344" stroke="#555" stroke-width="0.9"/>
<line x1="356.8" y1="152.52764700300344" x2="354.0" y2="152.52764700300344" stroke="#555" stroke-width="0.9"/>
<line x1="39.6" y1="148.47400990926315" x2="42.4" y2="148.47400990926315" stroke="#555" stroke-width="0.9"/>
<line x1="356.8" y1="148.47400990926315" x2="354.0" y2="148.47400990926315" stroke="#555" stroke-width="0.9"/>
<line x1="39.6" y1="144.89844859019118" x2="42.4" y2="144.89844859019118" stroke="#555" stroke-width="0.9"/>
<line x1="356.8" y1="144.89844859019118" x2="354.0" y2="144.89844859019118" stroke="#555" stroke-width="0.9"/>
<line x1="39.6" y1="141.7" x2="45.1" y2="141.7" stroke="#555" stroke-width="0.9"/>
<line x1="356.8" y1="141.7" x2="351.3" y2="141.7" stroke="#555" stroke-width="0.9"/>
<line x1="39.6" y1="120.6580033030877" x2="42.4" y2="120.6580033030877" stroke="#555" stroke-width="0.9"/>
<line x1="356.8" y1="120.6580033030877" x2="354.0" y2="120.6580033030877" stroke="#555" stroke-width="0.9"/>
<line x1="39.6" y1="108.34922429509558" x2="42.4" y2="108.34922429509558" stroke="#555" stroke-width="0.9"/>
<line x1="356.8" y1="108.34922429509558" x2="354.0" y2="108.34922429509558" stroke="#555" stroke-width="0.9"/>
<line x1="39.6" y1="99.6160066061754" x2="42.4" y2="99.6160066061754" stroke="#555" stroke-width="0.9"/>
<line x1="356.8" y1="99.6160066061754" x2="354.0" y2="99.6160066061754" stroke="#555" stroke-width="0.9"/>
<line x1="39.6" y1="92.84199669691228" x2="42.4" y2="92.84199669691228" stroke="#555" stroke-width="0.9"/>
<line x1="356.8" y1="92.84199669691228" x2="354.0" y2="92.84199669691228" stroke="#555" stroke-width="0.9"/>
<line x1="39.6" y1="87.30722759818329" x2="42.4" y2="87.30722759818329" stroke="#555" stroke-width="0.9"/>
<line x1="356.8" y1="87.30722759818329" x2="354.0" y2="87.30722759818329" stroke="#555" stroke-width="0.9"/>
<line x1="39.6" y1="82.62764700300343" x2="42.4" y2="82.62764700300343" stroke="#555" stroke-width="0.9"/>
<line x1="356.8" y1="82.62764700300343" x2="354.0" y2="82.62764700300343" stroke="#555" stroke-width="0.9"/>
<line x1="39.6" y1="78.57400990926311" x2="42.4" y2="78.57400990926311" stroke="#555" stroke-width="0.9"/>
<line x1="356.8" y1="78.57400990926311" x2="354.0" y2="78.57400990926311" stroke="#555" stroke-width="0.9"/>
<line x1="39.6" y1="74.99844859019117" x2="42.4" y2="74.99844859019117" stroke="#555" stroke-width="0.9"/>
<line x1="356.8" y1="74.99844859019117" x2="354.0" y2="74.99844859019117" stroke="#555" stroke-width="0.9"/>
<line x1="39.6" y1="71.79999999999998" x2="45.1" y2="71.79999999999998" stroke="#555" stroke-width="0.9"/>
<line x1="356.8" y1="71.79999999999998" x2="351.3" y2="71.79999999999998" stroke="#555" stroke-width="0.9"/>
<line x1="39.6" y1="50.75800330308769" x2="42.4" y2="50.75800330308769" stroke="#555" stroke-width="0.9"/>
<line x1="356.8" y1="50.75800330308769" x2="354.0" y2="50.75800330308769" stroke="#555" stroke-width="0.9"/>
<line x1="39.6" y1="38.449224295095576" x2="42.4" y2="38.449224295095576" stroke="#555" stroke-width="0.9"/>
<line x1="356.8" y1="38.449224295095576" x2="354.0" y2="38.449224295095576" stroke="#555" stroke-width="0.9"/>
<line x1="39.6" y1="29.716006606175398" x2="42.4" y2="29.716006606175398" stroke="#555" stroke-width="0.9"/>
<line x1="356.8" y1="29.716006606175398" x2="354.0" y2="29.716006606175398" stroke="#555" stroke-width="0.9"/>
<line x1="39.6" y1="22.94199669691227" x2="42.4" y2="22.94199669691227" stroke="#555" stroke-width="0.9"/>
<line x1="356.8" y1="22.94199669691227" x2="354.0" y2="22.94199669691227" stroke="#555" stroke-width="0.9"/>
<line x1="39.6" y1="17.407227598183283" x2="42.4" y2="17.407227598183283" stroke="#555" stroke-width="0.9"/>
<line x1="356.8" y1="17.407227598183283" x2="354.0" y2="17.407227598183283" stroke="#555" stroke-width="0.9"/>
<line x1="39.6" y1="12.727647003003426" x2="42.4" y2="12.727647003003426" stroke="#555" stroke-width="0.9"/>
<line x1="356.8" y1="12.727647003003426" x2="354.0" y2="12.727647003003426" stroke="#555" stroke-width="0.9"/>
<line x1="39.6" y1="8.674009909263134" x2="42.4" y2="8.674009909263134" stroke="#555" stroke-width="0.9"/>
<line x1="356.8" y1="8.674009909263134" x2="354.0" y2="8.674009909263134" stroke="#555" stroke-width="0.9"/>
<line x1="39.6" y1="5.098448590191197" x2="42.4" y2="5.098448590191197" stroke="#555" stroke-width="0.9"/>
<line x1="356.8" y1="5.098448590191197" x2="354.0" y2="5.098448590191197" stroke="#555" stroke-width="0.9"/>
<text x="37" y="282.7" font-family="Liberation Serif, serif" stroke="#111" stroke-width="0.22" font-size="10" text-anchor="end" fill="#111">1</text>
<text x="37" y="214.5" font-family="Liberation Serif, serif" stroke="#111" stroke-width="0.22" font-size="10" text-anchor="end" fill="#111">10</text>
<text x="37" y="144.6" font-family="Liberation Serif, serif" stroke="#111" stroke-width="0.22" font-size="10" text-anchor="end" fill="#111">100</text>
<text x="37" y="74.69999999999999" font-family="Liberation Serif, serif" stroke="#111" stroke-width="0.22" font-size="10" text-anchor="end" fill="#111">1000</text>
<text x="37" y="7" font-family="Liberation Serif, serif" stroke="#111" stroke-width="0.22" font-size="10" text-anchor="end" fill="#111">10000</text>
<text x="64.32" y="293.5" font-family="Liberation Serif, serif" stroke="#111" stroke-width="0.22" font-size="10" fill="#111">10<tspan dx="0.6" dy="-5" font-size="7">46</tspan></text>
<text x="127.75999999999999" y="293.5" font-family="Liberation Serif, serif" stroke="#111" stroke-width="0.22" font-size="10" fill="#111">10<tspan dx="0.6" dy="-5" font-size="7">48</tspan></text>
<text x="191.2" y="293.5" font-family="Liberation Serif, serif" stroke="#111" stroke-width="0.22" font-size="10" fill="#111">10<tspan dx="0.6" dy="-5" font-size="7">50</tspan></text>
<text x="254.64" y="293.5" font-family="Liberation Serif, serif" stroke="#111" stroke-width="0.22" font-size="10" fill="#111">10<tspan dx="0.6" dy="-5" font-size="7">52</tspan></text>
<text x="318.08000000000004" y="293.5" font-family="Liberation Serif, serif" stroke="#111" stroke-width="0.22" font-size="10" fill="#111">10<tspan dx="0.6" dy="-5" font-size="7">54</tspan></text>
<text x="177" y="303.5" font-family="Liberation Serif, serif" stroke="#111" stroke-width="0.22" font-size="10" fill="#111">E<tspan dy="2" font-size="7.3">γ, iso</tspan><tspan dy="-2">(erg)</tspan></text>
<text transform="translate(8.3,170) rotate(-90)" font-family="Liberation Serif, serif" stroke="#111" stroke-width="0.22" font-size="10.8" fill="#111">E<tspan dy="2" font-size="7.5">p</tspan><tspan dy="-2">(1+z) (keV)</tspan></text>
<polygon points="230.00,209.60 231.07,211.43 232.90,212.50 231.07,213.57 230.00,215.40 228.93,213.57 227.10,212.50 228.93,211.43" fill="#a03ca8" stroke="#a03ca8" stroke-width="0.5" stroke-linejoin="round"/>
<text x="235.6" y="216.0" font-family="Liberation Serif, serif" stroke="#111" stroke-width="0.22" font-size="9.8" fill="#111">GRB 070201</text>
<polygon points="230.00,221.30 231.07,223.13 232.90,224.20 231.07,225.27 230.00,227.10 228.93,225.27 227.10,224.20 228.93,223.13" fill="#4b2a9a" stroke="#4b2a9a" stroke-width="0.5" stroke-linejoin="round"/>
<text x="235.6" y="227.7" font-family="Liberation Serif, serif" stroke="#111" stroke-width="0.22" font-size="9.8" fill="#111">GRB 051103</text>
<polygon points="230.00,233.00 231.07,234.83 232.90,235.90 231.07,236.97 230.00,238.80 228.93,236.97 227.10,235.90 228.93,234.83" fill="#d42a2a" stroke="#d42a2a" stroke-width="0.5" stroke-linejoin="round"/>
<text x="235.6" y="239.4" font-family="Liberation Serif, serif" stroke="#111" stroke-width="0.22" font-size="9.8" fill="#111">GRB 200415A @ d=3.5 Mpc</text>
<polygon points="230.00,244.70 231.07,246.53 232.90,247.60 231.07,248.67 230.00,250.50 228.93,248.67 227.10,247.60 228.93,246.53" fill="#3f63c6" stroke="#3f63c6" stroke-width="0.5" stroke-linejoin="round"/>
<text x="235.6" y="251.1" font-family="Liberation Serif, serif" stroke="#111" stroke-width="0.22" font-size="9.8" fill="#111">GRB 200415A @ d=136 Mpc</text>
<polygon points="230.00,256.40 231.07,258.23 232.90,259.30 231.07,260.37 230.00,262.20 228.93,260.37 227.10,259.30 228.93,258.23" fill="#d08a2a" stroke="#d08a2a" stroke-width="0.5" stroke-linejoin="round"/>
<text x="235.6" y="262.8" font-family="Liberation Serif, serif" stroke="#111" stroke-width="0.22" font-size="9.8" fill="#111">SGR 1806-20 GF</text>
<polygon points="230.00,268.10 231.07,269.93 232.90,271.00 231.07,272.07 230.00,273.90 228.93,272.07 227.10,271.00 228.93,269.93" fill="#74ae34" stroke="#74ae34" stroke-width="0.5" stroke-linejoin="round"/>
<text x="235.6" y="274.5" font-family="Liberation Serif, serif" stroke="#111" stroke-width="0.22" font-size="9.8" fill="#111">GRB 170817A</text>
</svg></body></html>
